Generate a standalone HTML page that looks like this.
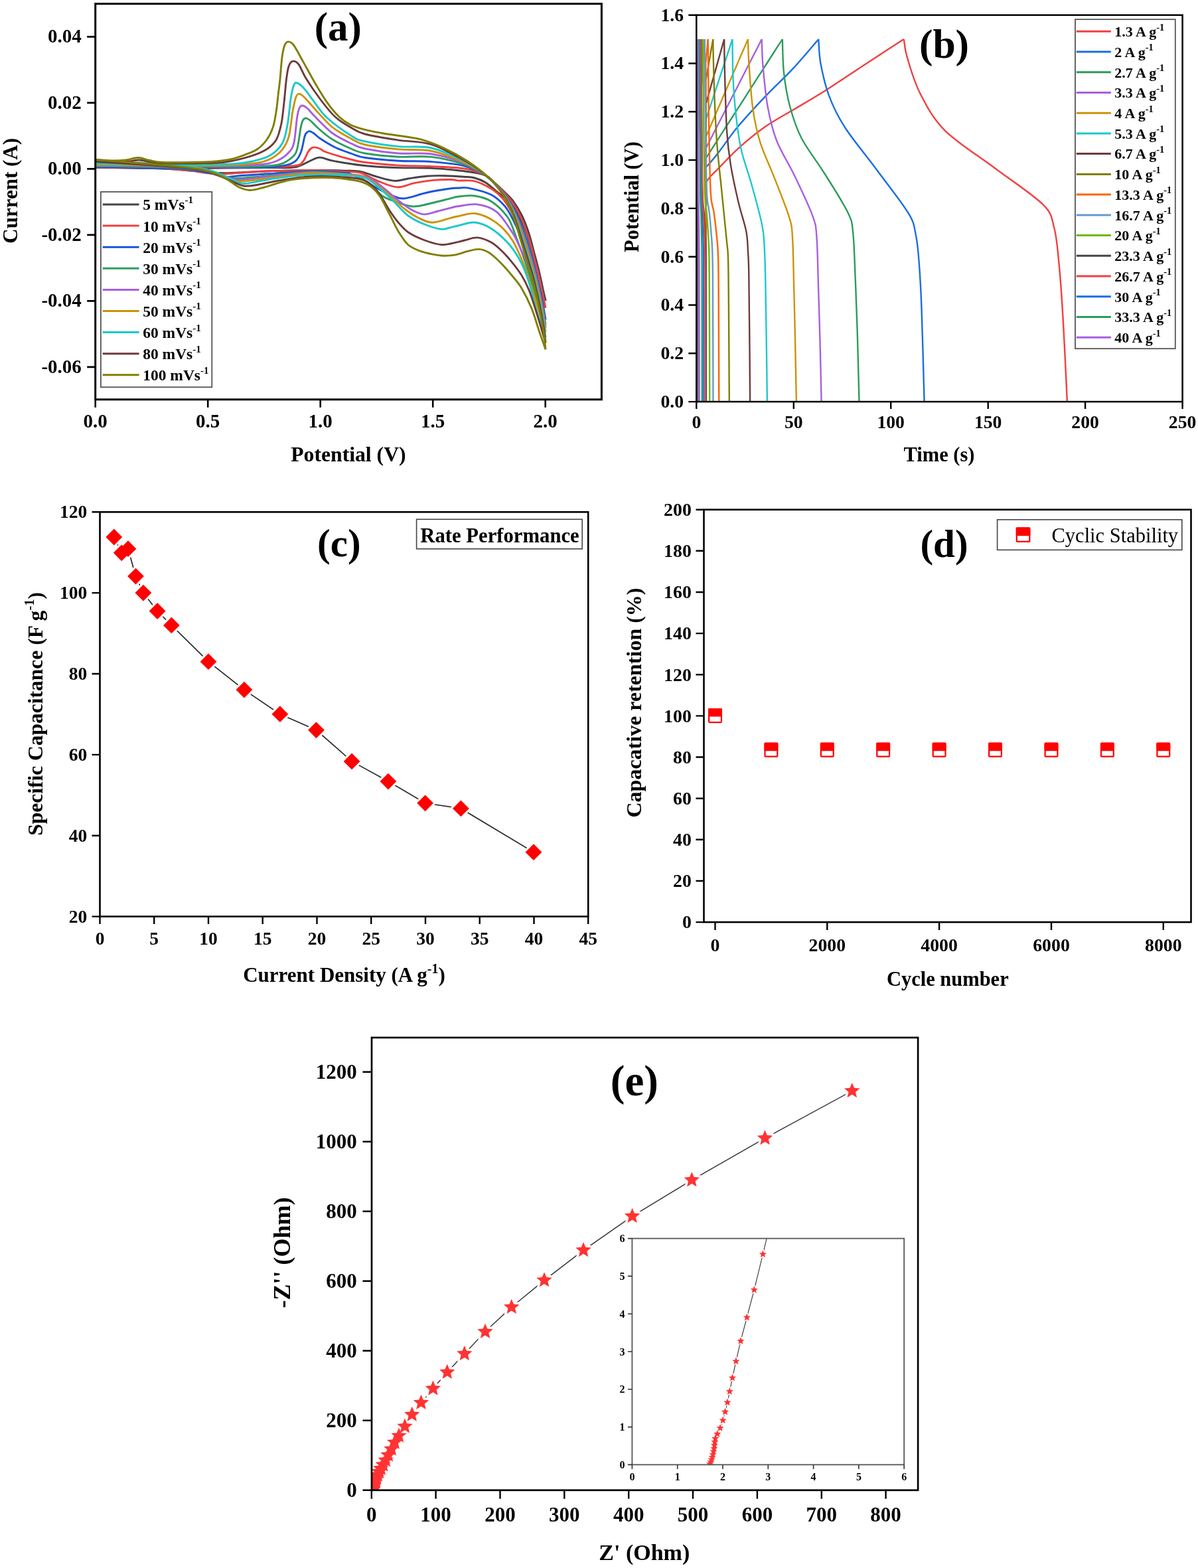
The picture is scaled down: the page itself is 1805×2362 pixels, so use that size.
<!DOCTYPE html><html><head><meta charset="utf-8"><title>Electrochemical performance</title><style>html,body{margin:0;padding:0;background:#fff;overflow:hidden;width:1805px;height:2362px;}svg{display:block;}</style></head><body>
<svg width="1805" height="2362" viewBox="0 0 1805 2362">
<rect width="1805" height="2362" fill="#fff"/>
<defs><clipPath id="clipA"><rect x="143.7" y="5.7" width="762.7" height="596.1"/></clipPath></defs>
<g clip-path="url(#clipA)" fill="none" stroke-width="2.9" stroke-linejoin="round">
<path d="M143.7,252C153.1,252.2 180.6,252.8 200,253C219.4,253.2 243.3,253.4 260,253.5C276.7,253.6 286.7,253.7 300,253.6C313.3,253.5 323.3,253.2 340,253C356.7,252.8 383.3,252.6 400,252.5C416.7,252.4 430.9,253.1 440,252.4C449.1,251.8 449.6,250.3 454.3,248.6C459,246.9 463.4,243.9 468,242C472.6,240.1 476.6,237.1 481.9,237.1C487.2,237.1 492,240.2 500,241.9C508,243.6 520,245.6 530,247C540,248.4 548.3,249.6 560,250.5C571.7,251.4 585,252.1 600,252.6C615,253.1 635,252.7 650,253.4C665,254.1 679.2,255.6 690,256.7C700.8,257.8 708,258.7 715,260C722,261.3 726.7,262 731.7,264.5C736.7,267 740.3,270.9 745,275C749.7,279.1 755.3,284.3 760,289C764.7,293.7 769,297.2 773.3,303C777.6,308.8 782,315.8 786,324C790,332.2 793.7,341.8 797,352C800.3,362.2 803.3,375 806,385C808.7,395 811,403.7 813,412C815,420.3 816.5,428.2 818,435C819.5,441.8 821.3,449.8 822,452.8" stroke="#454545"/>
<path d="M822,452.8C821.2,449.8 818.7,441.3 817,435C815.3,428.7 814.3,423.8 812,415C809.7,406.2 806.2,392.8 803,382C799.8,371.2 796.8,360 793,350C789.2,340 784.7,330 780,322C775.3,314 770.3,307.6 765,302C759.7,296.4 753.8,292.8 748.3,288.3C742.8,283.8 737.2,278.4 731.7,275C726.2,271.6 720.6,269.5 715,268C709.4,266.5 705.7,266.8 698,266.2C690.3,265.6 678,264.9 669,264.7C660,264.5 652.8,264.5 643.8,265.2C634.8,265.9 623.5,267.8 615.2,269C607,270.2 602.2,272.9 594.3,272.4C586.4,271.9 576,268.5 567.6,266.2C559.2,263.9 551.7,260.1 543.8,258.6C535.9,257.1 532.3,257.5 520,257.1C507.7,256.7 490,256.2 470,256.4C450,256.5 420.9,257.3 400,258C379.1,258.7 358.4,260.4 344.3,260.7C330.2,261 327.6,260.8 315.7,260C303.8,259.2 287.2,256.8 272.9,255.7C258.6,254.6 251.5,254.1 230,253.5C208.5,252.9 158.1,252.2 143.7,252" stroke="#454545"/>
<path d="M143.7,251.5C153.1,251.6 173.9,251.8 200,252C226.1,252.2 266.7,252.5 300,252.5C333.3,252.5 375.9,252.5 400,252C424.1,251.5 435.4,250.9 444.8,249.5C454.2,248.1 453,247.1 456.2,243.8C459.4,240.5 461.8,232.8 463.8,229.5C465.8,226.2 466.4,225.3 468,224C469.6,222.7 471,221.9 473.3,221.9C475.6,221.9 478.8,222.7 482,224C485.2,225.3 484.4,226.8 492.4,229.5C500.4,232.2 520.4,238 530,240.5C539.6,243 538.3,243.1 550,244.5C561.7,245.9 583.3,248.1 600,249.1C616.7,250.1 633.3,249.9 650,250.7C666.7,251.5 686.4,251.8 700,254C713.6,256.2 724.1,260.4 731.7,264C739.3,267.6 740.7,271.2 745.4,275.7C750.2,280.2 755.8,285.7 760.4,290.9C765.1,296.1 769.3,300.6 773.5,307C777.8,313.4 781.9,320.8 785.7,329.3C789.5,337.8 793.2,347.6 796.6,358C799.9,368.4 803.1,381.2 805.8,391.6C808.6,401.9 811,411.4 813,420.3C815.1,429.1 816.7,437.3 818.1,444.6C819.6,451.8 821.4,460.4 822,463.6" stroke="#F14040"/>
<path d="M822,463.6C820.7,459.3 816.7,446.9 814,438C811.3,429.1 809,420 806,410C803,400 799.7,388.8 796,378C792.3,367.2 788.3,355 784,345C779.7,335 774.5,325.8 770,318C765.5,310.2 761.7,303.9 756.7,298.3C751.7,292.7 747,288.4 740,284.2C733,280 723.3,274.9 715,272.9C706.7,270.9 695.8,272.5 690,272.1C684.2,271.7 686.1,270.6 680,270.5C673.9,270.4 662.5,270.5 653.3,271.4C644.1,272.3 634,273.9 624.8,275.7C615.6,277.4 607.6,282.5 598.1,281.9C588.6,281.3 576.7,275.5 567.6,271.9C558.5,268.3 551.7,262.7 543.8,260.5C535.9,258.3 532.3,259.3 520,258.6C507.7,257.9 490,256.5 470,256.4C450,256.3 422.9,257.1 400,258C377.1,258.9 349.6,261.9 332.9,262.1C316.2,262.3 307.6,259.8 300,259C292.4,258.2 298.7,258.1 287,257.1C275.3,256.1 253.9,253.9 230,253C206.1,252.1 158.1,251.8 143.7,251.5" stroke="#F14040"/>
<path d="M143.7,251C153.1,251.1 173.9,251.3 200,251.5C226.1,251.7 266.7,251.9 300,252C333.3,252.1 378.3,252.5 400,252C421.7,251.5 422.5,250.5 430,249C437.5,247.5 440.9,246.2 444.8,242.9C448.7,239.7 450.9,235.7 453.3,229.5C455.7,223.3 457.6,210.6 459,205.7C460.4,200.8 460.8,201.3 462,200C463.2,198.7 464.4,197.4 466.2,197.6C468,197.8 470.2,199.1 473,201C475.8,202.9 477.6,205.5 482.9,209C488.2,212.5 497.1,218.2 505,222C512.9,225.8 522.5,228.9 530,231.5C537.5,234.1 538.3,235.7 550,237.5C561.7,239.3 583.3,241.2 600,242.2C616.7,243.2 633.3,242.3 650,243.6C666.7,244.9 686.4,246.6 700,250C713.6,253.4 724,259.5 731.7,264C739.4,268.5 741.3,271.9 746.2,276.9C751.1,282 756.5,288 761.2,294.1C765.8,300.2 770,306.2 774,313.5C778,320.8 781.6,328.9 785.2,338C788.9,347.1 792.4,357.2 795.8,368C799.2,378.7 802.7,391.4 805.5,402.4C808.4,413.3 811,424.3 813.1,433.9C815.3,443.6 816.9,452.4 818.4,460.3C819.9,468.2 821.4,477.9 822,481.4" stroke="#1A55D8"/>
<path d="M822,481.4C820.7,477 816.7,464.4 814,455C811.3,445.6 809,435.8 806,425C803,414.2 799.5,401.2 796,390C792.5,378.8 788.8,367.7 785,358C781.2,348.3 777.3,339.6 773.3,331.7C769.3,323.8 766.3,317.2 760.8,310.8C755.2,304.4 749,297.9 740,293.3C731,288.7 715,285 706.7,283.3C698.4,281.6 694.5,283.2 690,283.3C685.5,283.4 687.7,282.7 680,283.8C672.3,284.9 655.7,287.5 643.8,290C631.9,292.5 617.6,298.3 608.6,299C599.6,299.7 596.8,296.6 590,294C583.2,291.4 574.3,287 567.6,283.3C560.9,279.6 556.3,275.4 550,272C543.7,268.6 535,264.9 530,263C525,261.1 530,261.4 520,260.5C510,259.6 490,257.6 470,257.9C450,258.1 418.6,260.8 400,262C381.4,263.2 368.8,264.3 358.6,265C348.4,265.7 345.8,267.1 338.6,266.4C331.5,265.7 325.5,262.6 315.7,260.7C305.9,258.8 294.3,256.3 280,255C265.7,253.7 252.7,253.7 230,253C207.3,252.3 158.1,251.3 143.7,251" stroke="#1A55D8"/>
<path d="M143.7,250C153.1,250.1 173.9,250.3 200,250.5C226.1,250.7 270,250.9 300,251C330,251.1 360,251.5 380,251C400,250.5 410,250.3 420,248C430,245.7 435.4,241 440,237.1C444.6,233.2 445.4,232.4 447.6,224.8C449.8,217.2 451.8,198.7 453.3,191.4C454.8,184.1 455.1,183.2 456.5,181C457.9,178.8 459.5,177.9 461.4,178.1C463.3,178.3 465.2,179.7 468,182C470.8,184.3 472.8,187.4 478.1,192C483.4,196.6 491.4,204.1 500,209.5C508.6,214.9 521.7,220.9 530,224.5C538.3,228.1 538.3,229.1 550,231C561.7,232.9 583.3,235.3 600,236.2C616.7,237.1 633.3,234.4 650,236.4C666.7,238.4 686.4,243.4 700,248C713.6,252.6 724,259.1 731.7,264C739.4,268.9 741.5,272.2 746.5,277.5C751.4,282.7 756.9,288.9 761.5,295.4C766.1,301.9 770.2,308.6 774.1,316.3C778.1,324 781.5,332.4 785,341.7C788.6,351 792.1,361.3 795.5,372.2C798.9,383.1 802.5,395.7 805.4,407C808.3,418.2 811,429.7 813.1,439.7C815.3,449.7 817,458.8 818.5,467C820,475.2 821.4,485.3 822,489" stroke="#2E9E5E"/>
<path d="M822,489C820.8,485.8 817.3,476.8 815,470C812.7,463.2 810.8,457.2 808,448C805.2,438.8 801.3,425.5 798,415C794.7,404.5 791.4,394.7 788,385C784.6,375.3 781.3,366.3 777.5,356.7C773.7,347.1 771.2,336.4 765,327.5C758.8,318.6 748.3,308.7 740,303.3C731.7,297.9 723.3,296.2 715,295C706.7,293.8 695.8,295.6 690,296.2C684.2,296.9 686.7,297 680,298.6C673.3,300.2 659.5,303.9 650,306C640.5,308.1 631.2,311.2 622.9,311C614.6,310.8 607.6,307.6 600,305C592.4,302.4 583.8,299.9 577.1,295.7C570.4,291.5 566.2,284.9 560,280C553.8,275.1 546.7,269 540,266C533.3,263 531.7,263.2 520,262C508.3,260.8 486.7,258.8 470,259C453.3,259.2 435,261.7 420,263C405,264.3 391.4,266.1 380,267C368.6,267.9 359.7,269.3 351.4,268.6C343.1,267.9 338.6,265.1 330,263C321.4,260.9 313.3,257.8 300,256C286.7,254.2 276.1,253 250,252C223.9,251 161.4,250.3 143.7,250" stroke="#2E9E5E"/>
<path d="M143.7,249C153.1,249.1 173.9,249.3 200,249.5C226.1,249.7 273.3,250 300,250C326.7,250 343.3,250 360,249.5C376.7,249 390,248.4 400,247C410,245.6 414.1,243.9 420,241C425.9,238.1 431.4,233.8 435.2,229.5C439,225.2 440.8,223.9 442.9,215.2C445,206.5 446.2,185.8 447.6,177.1C449,168.4 449.6,166 451,163C452.4,160 453.5,158.8 455.7,159C457.9,159.2 461.1,161.4 464,164C466.9,166.6 467.3,168.3 473.3,174.3C479.3,180.3 490.6,193 500,200C509.4,207 521.7,212.5 530,216.5C538.3,220.5 538.3,221.6 550,224C561.7,226.4 583.3,229.7 600,231C616.7,232.3 633.3,229.5 650,232C666.7,234.5 686.4,240.7 700,246C713.6,251.3 723.9,258.7 731.7,264C739.5,269.3 741.7,272.4 746.7,277.8C751.7,283.1 757.1,289.5 761.7,296.2C766.3,302.9 770.4,310 774.2,318C778.1,325.9 781.4,334.5 784.9,343.9C788.4,353.4 791.9,363.7 795.3,374.7C798.7,385.7 802.4,398.3 805.3,409.7C808.3,421.1 811,433 813.2,443.2C815.4,453.4 817.1,462.6 818.6,471C820,479.4 821.4,489.7 822,493.5" stroke="#A65FE0"/>
<path d="M822,493.5C820.7,488.2 816.8,472.9 814,462C811.2,451.1 808.5,439.5 805,428C801.5,416.5 796.2,401.3 793,393C789.8,384.7 789.1,384.8 785.8,378C782.5,371.2 779.5,362.3 773.3,352.5C767,342.7 757.3,326.6 748.3,319.2C739.3,311.8 728.9,309.3 719.2,307.9C709.5,306.5 696.5,310 690,310.8C683.5,311.6 685,311.7 680,312.9C675,314.1 666.8,316.3 660,318C653.2,319.7 645.7,323.2 639,322.9C632.3,322.6 626.5,319.5 620,316C613.5,312.5 606.7,307.2 600,302C593.3,296.8 586.7,290.3 580,285C573.3,279.7 566.7,273.5 560,270C553.3,266.5 546.7,265.2 540,264C533.3,262.8 531.7,263.2 520,262.5C508.3,261.8 486.7,259.8 470,260C453.3,260.2 435,262.5 420,264C405,265.5 390.7,267.9 380,269C369.3,270.1 363.2,271.5 355.7,270.7C348.2,269.9 342.6,266.3 335,264C327.4,261.7 319.2,259 310,257C300.8,255 293.3,253.2 280,252C266.7,250.8 252.7,250.5 230,250C207.3,249.5 158.1,249.2 143.7,249" stroke="#A65FE0"/>
<path d="M143.7,248C153.1,248.1 182.3,248.3 200,248.5C217.7,248.7 233.3,248.8 250,249C266.7,249.2 283.3,249.6 300,249.5C316.7,249.4 335,249.2 350,248.5C365,247.8 380,246.8 390,245C400,243.2 404.1,241.4 410,238C415.9,234.6 421.5,230.2 425.7,224.8C429.9,219.4 432.6,215.2 435.2,205.7C437.8,196.2 439.2,177.5 441,167.6C442.8,157.7 444.3,150.4 446,146C447.7,141.6 449.1,141.1 451.4,141.4C453.7,141.7 456.4,144.4 460,148C463.6,151.6 466.6,155.7 473.3,162.9C480,170.1 490.6,183.2 500,191C509.4,198.8 521.7,205 530,209.5C538.3,214 538.3,215.4 550,218C561.7,220.6 583.3,223.3 600,224.9C616.7,226.5 633.3,224.2 650,227.5C666.7,230.8 686.4,238.9 700,245C713.6,251.1 723.9,258.5 731.7,264C739.5,269.5 741.9,272.7 746.9,278.2C752,283.8 757.3,290.3 761.9,297.3C766.5,304.4 770.6,312 774.4,320.3C778.2,328.6 781.3,337.5 784.7,347.1C788.2,356.8 791.7,367.2 795.1,378.3C798.5,389.4 802.2,402 805.2,413.6C808.2,425.3 811,437.6 813.2,448.2C815.4,458.7 817.2,468.1 818.6,476.7C820.1,485.4 821.4,496.1 822,500" stroke="#CC9308"/>
<path d="M822,500C820.5,495.3 816.2,482 813,472C809.8,462 806.7,451.5 803,440C799.3,428.5 796.2,416 791,403C785.8,390 779.1,373.2 772,362C764.9,350.8 757.4,342.5 748.3,335.8C739.2,329.1 727.2,323.4 717.5,321.7C707.8,320 696.2,324.7 690,325.8C683.8,326.9 686.4,326.5 680,328.1C673.6,329.7 659.7,335.2 651.4,335.2C643.1,335.2 636.9,331.4 630,328C623.1,324.6 616.7,320.2 610,315C603.3,309.8 596.7,302.8 590,297C583.3,291.2 576.7,285 570,280C563.3,275 558.3,269.8 550,267C541.7,264.2 533.3,264.1 520,263C506.7,261.9 486.7,260.2 470,260.7C453.3,261.2 434.2,264.3 420,266C405.8,267.7 395.2,269.9 385,271C374.8,272.1 366.1,273.7 358.6,272.9C351.1,272.1 346.4,268.5 340,266C333.6,263.5 328.3,260.3 320,258C311.7,255.7 305,253.5 290,252C275,250.5 254.4,249.7 230,249C205.6,248.3 158.1,248.2 143.7,248" stroke="#CC9308"/>
<path d="M143.7,246.5C149.8,246.6 168.9,247.2 180,247C191.1,246.8 200,244.9 210,245C220,245.1 225,247 240,247.5C255,248 281.7,248.1 300,248C318.3,247.9 336.7,247.8 350,247C363.3,246.2 370.6,245.1 380,243C389.4,240.9 399.1,238.9 406.7,234.3C414.3,229.7 421.3,223.1 425.7,215.2C430.1,207.3 431.2,197.8 433.3,186.7C435.4,175.6 436.5,158.4 438.1,148.6C439.7,138.8 441.2,131.5 442.9,127.6C444.6,123.7 445.4,124.1 448.1,125.2C450.8,126.3 454.8,129.6 459,134.3C463.2,139 467.7,146.2 473.3,153.3C478.9,160.4 482.9,168.5 492.4,177.1C501.8,185.7 520.4,199 530,205C539.6,211 538.3,210.4 550,213C561.7,215.6 583.3,218.9 600,220.6C616.7,222.3 633.3,219.3 650,223C666.7,226.7 686.4,236.2 700,243C713.6,249.8 723.8,258 731.7,264C739.6,270 742.2,273 747.3,278.8C752.4,284.6 757.7,291.4 762.3,298.9C766.8,306.3 770.9,314.7 774.6,323.5C778.3,332.2 781.1,341.3 784.5,351.3C787.8,361.2 791.3,371.8 794.7,383.1C798.2,394.3 802,406.9 805.1,418.8C808.2,430.7 810.9,443.8 813.2,454.7C815.5,465.6 817.3,475.3 818.8,484.3C820.2,493.2 821.5,504.5 822,508.5" stroke="#1CC8CC"/>
<path d="M822,508.5C819.8,501.8 812.9,482.1 808.7,468.3C804.6,454.5 801,437.8 797.1,425.7C793.2,413.6 790.5,405.6 785.5,396C780.5,386.4 774.6,376.6 767,368C759.4,359.4 748.7,349.7 740,344.2C731.3,338.7 723.3,335.7 715,335C706.7,334.3 695.8,338.8 690,340C684.2,341.2 684.2,341.5 680,342.4C675.8,343.3 671.5,345.9 664.8,345.2C658.1,344.5 648.3,341.4 640,338C631.7,334.6 623.3,331.3 615,325C606.7,318.7 597.5,307.2 590,300C582.5,292.8 576.7,287.3 570,282C563.3,276.7 558.3,271 550,268C541.7,265 533.3,264.9 520,264C506.7,263.1 486.7,262.2 470,262.9C453.3,263.6 433.3,266.3 420,268C406.7,269.7 399.1,271.6 390,273C380.9,274.4 373.2,277.2 365.7,276.4C358.2,275.6 352.6,271.1 345,268C337.4,264.9 329.2,260.7 320,258C310.8,255.3 305,253.7 290,252C275,250.3 254.4,248.9 230,248C205.6,247.1 158.1,246.8 143.7,246.5" stroke="#1CC8CC"/>
<path d="M143.7,243.5C148.9,243.7 166.4,244.6 175,244.5C183.6,244.4 189.2,243.6 195,243C200.8,242.4 204.5,240.8 210,241C215.5,241.2 221.3,243.2 228,244C234.7,244.8 238,245.7 250,246C262,246.3 285,246.3 300,246C315,245.7 327,245.8 340,244C353,242.2 367.8,238.4 378.1,235.2C388.4,232 395.5,228.9 401.9,224.8C408.2,220.7 412.5,216.8 416.2,210.5C419.9,204.2 421.9,195.4 423.8,186.7C425.7,178 426.3,169.2 427.6,158.1C428.9,147 430.2,129.7 431.4,120C432.6,110.3 433.4,104.6 435,100C436.6,95.4 438.2,92.8 440.7,92.3C443.2,91.8 446.6,92.7 450,97C453.4,101.3 455.5,109.2 461,118C466.5,126.8 475.6,140.3 482.9,150C490.2,159.7 497.4,169 505,176C512.6,183 521.1,187.7 528.6,192C536.1,196.3 538.1,198.8 550,202C561.9,205.2 583.3,208.5 600,211.1C616.7,213.7 632.7,212.2 650,217.7C667.3,223.2 690.1,236.3 703.7,244C717.3,251.7 724.4,258.1 731.7,264C739,269.9 742.5,273.3 747.6,279.3C752.8,285.4 758.1,292.4 762.6,300.3C767.1,308.1 771.2,317.2 774.8,326.4C778.4,335.6 781,345 784.3,355.2C787.5,365.4 791,376.1 794.4,387.5C797.8,398.9 801.8,411.4 805,423.7C808.1,435.9 810.9,449.5 813.3,460.8C815.6,472.1 817.4,482 818.9,491.3C820.3,500.6 821.5,512.3 822,516.5" stroke="#6E3B3B"/>
<path d="M822,516.5C819.8,509.1 812.9,485.3 808.7,472.1C804.6,458.9 801,447 797.1,437.3C793.2,427.6 790,421.4 785.5,414.1C781,406.8 775.1,399.5 770,393.3C764.9,387.1 760,381.7 755,377C750,372.3 746,368.2 740,365C734,361.8 725.9,358.4 719.2,357.9C712.5,357.4 706.5,360.5 700,362C693.5,363.5 685.9,365.6 680,366.7C674.1,367.8 671.5,369.4 664.8,368.6C658.1,367.8 648.3,365.1 640,362C631.7,358.9 621.9,354.5 615.2,350C608.5,345.5 604.8,340.6 600,335C595.2,329.4 591.7,324.2 586.7,316.7C581.7,309.2 576.1,297.4 570,290C563.9,282.6 558.3,275.8 550,272C541.7,268.2 533.3,268.1 520,267C506.7,265.9 486.7,264.9 470,265.7C453.3,266.5 433.3,269.9 420,272C406.7,274.1 398.8,276.7 390,278C381.2,279.3 374.6,281.2 367.1,280C359.6,278.8 352.9,274.2 345,271C337.1,267.8 329.2,263.8 320,261C310.8,258.2 305,256 290,254C275,252 254.4,250.8 230,249C205.6,247.2 158.1,244.4 143.7,243.5" stroke="#6E3B3B"/>
<path d="M143.7,240.5C148.1,240.8 162.3,241.9 170,242C177.7,242.1 183.7,241.8 190,241C196.3,240.2 202.2,237.4 208,237.5C213.8,237.6 218.8,240.3 225,241.5C231.2,242.7 234.2,244 245,244.5C255.8,245 277.5,244.7 290,244.5C302.5,244.3 310.8,244.2 320,243.5C329.2,242.8 336.9,242.2 345,240.5C353.1,238.8 361.5,235.9 368.6,233.3C375.7,230.7 382.1,228.6 387.6,224.8C393.2,221 397.9,216.1 401.9,210.5C405.9,204.9 409,198.6 411.4,191.4C413.8,184.2 414.9,175.5 416.2,167.6C417.5,159.7 418.1,151.7 419,143.8C419.9,135.9 420.9,129.6 421.9,120C422.9,110.4 423.8,94.7 425,86C426.2,77.3 427.4,71.8 429,68C430.6,64.2 432.5,62.8 434.8,62.9C437.1,63 439.2,63.5 442.9,68.6C446.6,73.7 451.8,84.1 457.1,93.6C462.5,103.1 469,115.6 475,125.7C481,135.8 486.9,146 492.9,154.3C498.8,162.6 504.8,170 510.7,175.7C516.6,181.3 522.1,184.9 528.6,188.2C535.1,191.5 542.3,193.3 550,195.4C557.7,197.5 566.7,199 575,200.5C583.3,202 590.1,202.6 600,204.2C609.9,205.8 623.1,207 634.6,210.2C646.1,213.4 657.6,217.9 669.1,223.2C680.6,228.5 693.3,235.5 703.7,242.2C714.1,248.9 724.3,257 731.7,263.3C739.1,269.6 742.8,273.6 748,280C753.2,286.4 758.5,293.7 763,302C767.5,310.3 771.5,320.3 775,330C778.5,339.7 780.8,349.5 784,360C787.2,370.5 790.5,381.4 794,393C797.5,404.6 801.6,417.1 804.8,429.6C808,442.2 810.9,456.6 813.3,468.3C815.7,480 817.5,490.3 819,500C820.5,509.7 821.5,521.9 822,526.3" stroke="#7F7F00"/>
<path d="M822,526.3C820.4,521.8 816,509.5 812.5,499.2C809,488.9 805.4,475.3 800.9,464.4C796.4,453.4 790.6,442 785.5,433.5C780.4,425 774.5,419 770,413.4C765.5,407.8 761.9,403.9 758.3,400C754.7,396.1 752,393.3 748.3,390C744.5,386.7 740.2,382.4 735.8,380C731.4,377.6 727.1,375.6 721.7,375.4C716.4,375.2 709.6,377.3 703.7,378.7C697.8,380.1 692.4,382.8 686.4,383.9C680.4,385 673.1,385.3 667.6,385.2C662.1,385.1 658.8,384.4 653.3,383.3C647.8,382.2 640.6,381 634.3,378.6C627.9,376.2 620.8,373.8 615.2,369C609.7,364.2 605.8,357.8 601,350C596.2,342.2 591.5,331.4 586.7,322.4C581.9,313.3 576.9,302.4 572.4,295.7C567.9,289 564.3,285.5 560,282C555.7,278.5 553.1,276.6 546.4,274.5C539.7,272.4 529.4,270.7 520,269.5C510.6,268.3 500,267.7 490,267.5C480,267.3 469.2,267.8 460,268.5C450.8,269.2 442.5,270.1 435,271.5C427.5,272.9 421.7,275.1 415,277C408.3,278.9 401.5,281.4 395,283C388.5,284.6 381.8,286.7 376,286.5C370.2,286.3 364.7,284.1 360,282C355.3,279.9 353,277.1 348,274C343,270.9 337.8,266.8 330,263.6C322.2,260.4 313.1,257.3 301.4,255C289.7,252.7 276.9,251.7 260,250C243.1,248.3 219.4,246.6 200,245C180.6,243.4 153.1,241.2 143.7,240.5" stroke="#7F7F00"/>
</g>
<rect x="143.7" y="5.7" width="762.7" height="596.1" fill="none" stroke="#000" stroke-width="3.0"/>
<path d="M143.7,601.8V613.8M313.2,601.8V613.8M482.7,601.8V613.8M652.2,601.8V613.8M821.7,601.8V613.8" stroke="#000" stroke-width="2.6" fill="none"/>
<path d="M143.7,55.4H131.2M143.7,154.9H131.2M143.7,254.4H131.2M143.7,353.9H131.2M143.7,453.4H131.2M143.7,552.9H131.2" stroke="#000" stroke-width="2.6" fill="none"/>
<text x="143.7" y="643.8" font-size="29" text-anchor="middle" style="font-family:'Liberation Serif','Times New Roman',serif;font-weight:bold">0.0</text>
<text x="313.2" y="643.8" font-size="29" text-anchor="middle" style="font-family:'Liberation Serif','Times New Roman',serif;font-weight:bold">0.5</text>
<text x="482.7" y="643.8" font-size="29" text-anchor="middle" style="font-family:'Liberation Serif','Times New Roman',serif;font-weight:bold">1.0</text>
<text x="652.2" y="643.8" font-size="29" text-anchor="middle" style="font-family:'Liberation Serif','Times New Roman',serif;font-weight:bold">1.5</text>
<text x="821.7" y="643.8" font-size="29" text-anchor="middle" style="font-family:'Liberation Serif','Times New Roman',serif;font-weight:bold">2.0</text>
<text x="122.8" y="64.2" font-size="29" text-anchor="end" style="font-family:'Liberation Serif','Times New Roman',serif;font-weight:bold">0.04</text>
<text x="122.8" y="163.7" font-size="29" text-anchor="end" style="font-family:'Liberation Serif','Times New Roman',serif;font-weight:bold">0.02</text>
<text x="122.8" y="263.2" font-size="29" text-anchor="end" style="font-family:'Liberation Serif','Times New Roman',serif;font-weight:bold">0.00</text>
<text x="122.8" y="362.7" font-size="29" text-anchor="end" style="font-family:'Liberation Serif','Times New Roman',serif;font-weight:bold">-0.02</text>
<text x="122.8" y="462.2" font-size="29" text-anchor="end" style="font-family:'Liberation Serif','Times New Roman',serif;font-weight:bold">-0.04</text>
<text x="122.8" y="561.7" font-size="29" text-anchor="end" style="font-family:'Liberation Serif','Times New Roman',serif;font-weight:bold">-0.06</text>
<text x="524.9" y="694.5" font-size="31.7" text-anchor="middle" style="font-family:'Liberation Serif','Times New Roman',serif;font-weight:bold">Potential (V)</text>
<text x="26.5" y="287.3" font-size="31" text-anchor="middle" style="font-family:'Liberation Serif','Times New Roman',serif;font-weight:bold" transform="rotate(-90 26.5 287.3)">Current (A)</text>
<text x="509.3" y="60.6" font-size="61" text-anchor="middle" style="font-family:'Liberation Serif','Times New Roman',serif;font-weight:bold">(a)</text>
<rect x="151.9" y="289" width="167.4" height="294.2" fill="#fff" stroke="#555" stroke-width="1.8"/>
<path d="M154.7,308H209.6" stroke="#454545" stroke-width="3"/>
<text x="215.2" y="316.4" font-size="23.5" style="font-family:'Liberation Serif','Times New Roman',serif;font-weight:bold">5 mVs<tspan font-size="15" dy="-10.5">-1</tspan></text>
<path d="M154.7,340.1H209.6" stroke="#F14040" stroke-width="3"/>
<text x="215.2" y="348.5" font-size="23.5" style="font-family:'Liberation Serif','Times New Roman',serif;font-weight:bold">10 mVs<tspan font-size="15" dy="-10.5">-1</tspan></text>
<path d="M154.7,372.2H209.6" stroke="#1A55D8" stroke-width="3"/>
<text x="215.2" y="380.6" font-size="23.5" style="font-family:'Liberation Serif','Times New Roman',serif;font-weight:bold">20 mVs<tspan font-size="15" dy="-10.5">-1</tspan></text>
<path d="M154.7,404.3H209.6" stroke="#2E9E5E" stroke-width="3"/>
<text x="215.2" y="412.7" font-size="23.5" style="font-family:'Liberation Serif','Times New Roman',serif;font-weight:bold">30 mVs<tspan font-size="15" dy="-10.5">-1</tspan></text>
<path d="M154.7,436.4H209.6" stroke="#A65FE0" stroke-width="3"/>
<text x="215.2" y="444.8" font-size="23.5" style="font-family:'Liberation Serif','Times New Roman',serif;font-weight:bold">40 mVs<tspan font-size="15" dy="-10.5">-1</tspan></text>
<path d="M154.7,468.5H209.6" stroke="#CC9308" stroke-width="3"/>
<text x="215.2" y="476.9" font-size="23.5" style="font-family:'Liberation Serif','Times New Roman',serif;font-weight:bold">50 mVs<tspan font-size="15" dy="-10.5">-1</tspan></text>
<path d="M154.7,500.6H209.6" stroke="#1CC8CC" stroke-width="3"/>
<text x="215.2" y="509" font-size="23.5" style="font-family:'Liberation Serif','Times New Roman',serif;font-weight:bold">60 mVs<tspan font-size="15" dy="-10.5">-1</tspan></text>
<path d="M154.7,532.7H209.6" stroke="#6E3B3B" stroke-width="3"/>
<text x="215.2" y="541.1" font-size="23.5" style="font-family:'Liberation Serif','Times New Roman',serif;font-weight:bold">80 mVs<tspan font-size="15" dy="-10.5">-1</tspan></text>
<path d="M154.7,564.8H209.6" stroke="#7F7F00" stroke-width="3"/>
<text x="215.2" y="573.2" font-size="23.5" style="font-family:'Liberation Serif','Times New Roman',serif;font-weight:bold">100 mVs<tspan font-size="15" dy="-10.5">-1</tspan></text>
<defs><clipPath id="clipB"><rect x="1049.3" y="22.7" width="732.3" height="582.4"/></clipPath></defs>
<g clip-path="url(#clipB)" fill="none" stroke-width="2.4" stroke-linejoin="round">
<path d="M1063.4,605.1 L1063.4,275.7" stroke="#F14040"/>
<path d="M1063.4,275.7C1064.4,274.2 1066.3,270.5 1069.3,267C1072.3,263.6 1074.1,262.2 1081.3,254.9C1088.5,247.6 1100.5,234.1 1112.6,223.3C1124.7,212.5 1140.2,199.8 1154.1,190.1C1168,180.4 1182,173.3 1195.9,165C1209.8,156.7 1223.5,149 1237.4,140.3C1251.3,131.7 1265.3,122.1 1279.2,113C1293,103.9 1306.9,94.7 1320.7,85.7C1334.4,76.8 1355,63.5 1361.8,59.1" stroke="#F14040"/>
<path d="M1361.8,59.1C1362.7,63.7 1362.7,72.7 1366.8,86.4C1370.9,100 1377,122.7 1386.5,141C1395.9,159.3 1404.9,177.8 1423.4,196.3C1441.8,214.8 1472.6,233.5 1497.2,252C1521.8,270.6 1555.8,292.5 1571,307.7C1586.2,322.9 1584.1,328 1588.2,343C1592.3,358 1593.3,374.6 1595.6,397.6C1597.9,420.7 1599.7,446.8 1601.7,481.3C1603.8,515.9 1606.9,584.5 1607.9,605.1" stroke="#F14040"/>
<path d="M1063.4,605.1 L1063.4,252.4" stroke="#1A6FDF"/>
<path d="M1063.4,252.4C1066.3,248.9 1072.9,242.1 1081,231.7C1089.2,221.3 1100.1,204.7 1112.3,190.1C1124.5,175.6 1140.2,158.8 1154.1,144.1C1168,129.5 1182.5,116.6 1195.7,102.4C1208.9,88.2 1227,66.3 1233.3,59.1" stroke="#1A6FDF"/>
<path d="M1233.3,59.1C1233.8,65.2 1233.8,81.2 1236.4,95.5C1239.1,109.8 1243.1,128.6 1249.2,144.6C1255.3,160.7 1261.1,173.5 1273.1,192C1285,210.5 1305,234.1 1320.9,255.7C1336.8,277.2 1358.9,304.8 1368.7,321.2C1378.5,337.6 1377.2,341.8 1379.9,353.9C1382.5,366.1 1383.2,375.2 1384.6,394C1386.1,412.8 1387.3,431.6 1388.6,466.8C1389.9,502 1391.9,582 1392.6,605.1" stroke="#1A6FDF"/>
<path d="M1063.4,605.1 L1063.4,238.6" stroke="#2A9D5A"/>
<path d="M1063.4,238.6C1065.3,235.6 1071.1,226.6 1074.9,220.6C1078.7,214.6 1082.6,208.6 1086.4,202.7C1090.3,196.7 1094.1,190.7 1098,184.7C1101.8,178.7 1105.7,172.8 1109.5,166.8C1113.4,160.8 1117.2,154.8 1121.1,148.8C1124.9,142.8 1128.8,136.9 1132.6,130.9C1136.5,124.9 1140.3,118.9 1144.1,112.9C1148,107 1151.8,101 1155.7,95C1159.5,89 1163.4,83 1167.2,77C1171.1,71.1 1176.8,62.1 1178.8,59.1" stroke="#2A9D5A"/>
<path d="M1178.8,59.1C1179.2,67.6 1179.2,93.1 1181.1,110.1C1183,127 1185.9,144.6 1190.3,161C1194.8,177.4 1199,191.6 1207.7,208.3C1216.4,225.1 1230.8,243 1242.4,261.5C1254,280 1270,304.6 1277.1,319.4C1284.3,334.2 1283.3,333.6 1285.2,350.3C1287.1,367 1287.6,395.2 1288.7,419.5C1289.7,443.7 1290.6,465 1291.6,495.9C1292.5,526.8 1294,586.9 1294.5,605.1" stroke="#2A9D5A"/>
<path d="M1063.4,605.1 L1063.4,223.6" stroke="#A95FE0"/>
<path d="M1063.4,223.6C1064.8,220.9 1069,212.7 1071.8,207.2C1074.6,201.7 1077.4,196.2 1080.2,190.7C1083,185.2 1085.9,179.8 1088.7,174.3C1091.5,168.8 1094.3,163.3 1097.1,157.8C1099.9,152.3 1102.7,146.8 1105.5,141.4C1108.4,135.9 1111.2,130.4 1114,124.9C1116.8,119.4 1119.6,113.9 1122.4,108.5C1125.2,103 1128,97.5 1130.8,92C1133.7,86.5 1136.5,81 1139.3,75.6C1142.1,70.1 1146.3,61.8 1147.7,59.1" stroke="#A95FE0"/>
<path d="M1147.7,59.1C1148,65.8 1148,82.2 1149.5,99.1C1151,116.1 1153.3,142.2 1156.7,161C1160.2,179.8 1163.5,194.7 1170.2,212C1176.9,229.3 1188.2,246 1197.2,264.8C1206.2,283.6 1218.6,309.3 1224.2,324.8C1229.7,340.3 1229,338.8 1230.5,357.6C1232,376.4 1232.3,412.2 1233.2,437.7C1234,463.1 1234.7,482.6 1235.4,510.5C1236.1,538.4 1237.3,589.3 1237.6,605.1" stroke="#A95FE0"/>
<path d="M1063.4,605.1 L1063.4,206.5" stroke="#CC9308"/>
<path d="M1063.4,206.5C1064.4,204.1 1067.6,196.7 1069.7,191.8C1071.8,186.9 1074,182 1076.1,177C1078.2,172.1 1080.3,167.2 1082.4,162.3C1084.5,157.4 1086.7,152.5 1088.8,147.6C1090.9,142.6 1093,137.7 1095.1,132.8C1097.3,127.9 1099.4,123 1101.5,118.1C1103.6,113.2 1105.7,108.2 1107.9,103.3C1110,98.4 1112.1,93.5 1114.2,88.6C1116.3,83.7 1118.4,78.8 1120.6,73.8C1122.7,68.9 1125.9,61.6 1126.9,59.1" stroke="#CC9308"/>
<path d="M1126.9,59.1C1127.2,65.2 1127.2,78.2 1128.4,95.5C1129.6,112.8 1131.4,143.1 1134.2,162.8C1137,182.6 1139.7,196.2 1145.2,213.8C1150.6,231.4 1159.7,249.6 1167,268.4C1174.3,287.2 1184.4,311.8 1188.9,326.6C1193.4,341.5 1192.8,339.7 1194,357.6C1195.2,375.5 1195.5,408.5 1196.2,434C1196.9,459.5 1197.4,481.9 1198,510.5C1198.6,539 1199.6,589.3 1199.9,605.1" stroke="#CC9308"/>
<path d="M1063.4,605.1 L1063.4,180.7" stroke="#1CC8CC"/>
<path d="M1063.4,180.7C1064,178.6 1066,172.6 1067.4,168.5C1068.7,164.5 1070,160.4 1071.4,156.4C1072.7,152.3 1074.1,148.3 1075.4,144.2C1076.7,140.2 1078.1,136.1 1079.4,132C1080.7,128 1082.1,123.9 1083.4,119.9C1084.8,115.8 1086.1,111.8 1087.4,107.7C1088.8,103.7 1090.1,99.6 1091.5,95.6C1092.8,91.5 1094.1,87.5 1095.5,83.4C1096.8,79.4 1098.1,75.3 1099.5,71.3C1100.8,67.2 1102.8,61.1 1103.5,59.1" stroke="#1CC8CC"/>
<path d="M1103.5,59.1C1103.7,68.8 1103.7,98.5 1104.5,117.3C1105.4,136.1 1106.7,154 1108.7,171.9C1110.7,189.8 1112.7,207.1 1116.6,224.7C1120.5,242.3 1127.1,258.6 1132.3,277.5C1137.6,296.4 1144.8,322.5 1148.1,338.3C1151.3,354.1 1150.9,358 1151.7,372.1C1152.6,386.3 1152.8,401.3 1153.3,423.1C1153.8,444.9 1154.2,472.8 1154.6,503.2C1155,533.5 1155.7,588.1 1155.9,605.1" stroke="#1CC8CC"/>
<path d="M1063.4,605.1 L1063.4,157.4" stroke="#6E3B3B"/>
<path d="M1063.4,157.4C1063.8,155.7 1065.2,150.8 1066.1,147.6C1067.1,144.3 1068,141 1068.9,137.7C1069.9,134.4 1070.8,131.2 1071.7,127.9C1072.6,124.6 1073.6,121.3 1074.5,118.1C1075.4,114.8 1076.3,111.5 1077.3,108.2C1078.2,105 1079.1,101.7 1080.1,98.4C1081,95.1 1081.9,91.9 1082.8,88.6C1083.8,85.3 1084.7,82 1085.6,78.8C1086.5,75.5 1087.5,72.2 1088.4,68.9C1089.3,65.7 1090.7,60.7 1091.2,59.1" stroke="#6E3B3B"/>
<path d="M1091.2,59.1C1091.3,67.6 1091.3,87 1092,110.1C1092.6,133.1 1093.6,174.4 1095.1,197.4C1096.6,220.5 1098,230.5 1100.9,248.4C1103.8,266.3 1108.7,288.1 1112.6,304.8C1116.5,321.5 1121.9,336 1124.3,348.5C1126.7,360.9 1126.4,369.4 1127,379.4C1127.7,389.4 1127.8,389.1 1128.2,408.5C1128.6,428 1128.8,463.1 1129.2,495.9C1129.5,528.7 1130,586.9 1130.1,605.1" stroke="#6E3B3B"/>
<path d="M1063.4,605.1 L1063.4,121" stroke="#7F7F00"/>
<path d="M1063.4,121C1063.5,119.9 1064.1,116.9 1064.5,114.8C1064.8,112.7 1065.2,110.7 1065.6,108.6C1065.9,106.5 1066.3,104.5 1066.7,102.4C1067,100.4 1067.4,98.3 1067.8,96.2C1068.1,94.2 1068.5,92.1 1068.9,90C1069.2,88 1069.6,85.9 1070,83.9C1070.3,81.8 1070.7,79.7 1071,77.7C1071.4,75.6 1071.8,73.5 1072.1,71.5C1072.5,69.4 1072.9,67.4 1073.2,65.3C1073.6,63.2 1074.2,60.1 1074.3,59.1" stroke="#7F7F00"/>
<path d="M1074.3,59.1C1074.4,64 1074.4,72.4 1074.8,88.2C1075.2,104 1075.9,131.9 1076.8,153.7C1077.7,175.6 1078.6,196.2 1080.5,219.3C1082.3,242.3 1085.4,267.8 1087.8,292.1C1090.2,316.3 1093.6,349.7 1095.1,364.9C1096.6,380 1096.4,373.4 1096.8,383.1C1097.3,392.8 1097.4,403.1 1097.6,423.1C1097.8,443.1 1098,472.8 1098.2,503.2C1098.4,533.5 1098.7,588.1 1098.8,605.1" stroke="#7F7F00"/>
<path d="M1063.2,605.1 L1063.2,95.5" stroke="#FB6501"/>
<path d="M1063.2,95.5C1063.3,94.9 1063.4,93.1 1063.6,91.9C1063.7,90.6 1063.8,89.4 1063.9,88.2C1064,87 1064.2,85.8 1064.3,84.6C1064.4,83.4 1064.5,82.2 1064.6,80.9C1064.7,79.7 1064.9,78.5 1065,77.3C1065.1,76.1 1065.2,74.9 1065.3,73.7C1065.4,72.4 1065.6,71.2 1065.7,70C1065.8,68.8 1065.9,67.6 1066,66.4C1066.1,65.2 1066.3,64 1066.4,62.7C1066.5,61.5 1066.7,59.7 1066.7,59.1" stroke="#FB6501"/>
<path d="M1066.7,59.1C1066.8,67 1066.8,82.2 1067.1,106.4C1067.3,130.7 1067.7,173.8 1068.4,204.7C1069,235.6 1069.6,272.6 1070.9,292.1C1072.1,311.5 1074.2,309 1075.8,321.2C1077.5,333.3 1079.8,353.9 1080.8,364.9C1081.8,375.8 1081.7,378.8 1082,386.7C1082.2,394.6 1082.3,394 1082.5,412.2C1082.6,430.4 1082.7,463.7 1082.9,495.9C1083,528.1 1083.2,586.9 1083.3,605.1" stroke="#FB6501"/>
<path d="M1051.9,605.1 L1051.9,204.7" stroke="#6699CC"/>
<path d="M1051.9,204.7C1052.1,202.3 1052.6,195 1052.9,190.1C1053.3,185.3 1053.6,180.4 1053.9,175.6C1054.3,170.7 1054.6,165.9 1054.9,161C1055.3,156.2 1055.6,151.3 1055.9,146.5C1056.3,141.6 1056.6,136.8 1056.9,131.9C1057.2,127 1057.6,122.2 1057.9,117.3C1058.2,112.5 1058.6,107.6 1058.9,102.8C1059.2,97.9 1059.6,93.1 1059.9,88.2C1060.2,83.4 1060.6,78.5 1060.9,73.7C1061.2,68.8 1061.7,61.5 1061.9,59.1" stroke="#6699CC"/>
<path d="M1061.9,59.1C1061.9,67 1061.9,82.2 1062.1,106.4C1062.4,130.7 1062.7,173.8 1063.2,204.7C1063.6,235.6 1064.1,272.6 1065,292.1C1066,311.5 1067.6,309 1068.8,321.2C1070.1,333.3 1071.8,353.9 1072.6,364.9C1073.4,375.8 1073.3,378.8 1073.5,386.7C1073.7,394.6 1073.7,394 1073.9,412.2C1074,430.4 1074.1,463.7 1074.2,495.9C1074.3,528.1 1074.4,586.9 1074.5,605.1" stroke="#6699CC"/>
<path d="M1051.4,605.1 L1051.4,204.7" stroke="#6FB802"/>
<path d="M1051.4,204.7C1051.5,202.3 1051.9,195 1052.2,190.1C1052.4,185.3 1052.7,180.4 1053,175.6C1053.2,170.7 1053.5,165.9 1053.8,161C1054,156.2 1054.3,151.3 1054.6,146.5C1054.8,141.6 1055.1,136.8 1055.4,131.9C1055.6,127 1055.9,122.2 1056.2,117.3C1056.5,112.5 1056.7,107.6 1057,102.8C1057.3,97.9 1057.5,93.1 1057.8,88.2C1058.1,83.4 1058.3,78.5 1058.6,73.7C1058.9,68.8 1059.3,61.5 1059.4,59.1" stroke="#6FB802"/>
<path d="M1059.4,59.1C1059.4,67 1059.4,82.2 1059.6,106.4C1059.8,130.7 1060,173.8 1060.4,204.7C1060.8,235.6 1061.1,272.6 1061.9,292.1C1062.6,311.5 1063.8,309 1064.8,321.2C1065.8,333.3 1067.1,353.9 1067.7,364.9C1068.4,375.8 1068.3,378.8 1068.4,386.7C1068.6,394.6 1068.6,394 1068.7,412.2C1068.8,430.4 1068.9,463.7 1069,495.9C1069.1,528.1 1069.2,586.9 1069.2,605.1" stroke="#6FB802"/>
<path d="M1050.8,605.1 L1050.8,204.7" stroke="#454545"/>
<path d="M1050.8,204.7C1050.9,202.3 1051.2,195 1051.4,190.1C1051.5,185.3 1051.7,180.4 1051.9,175.6C1052.1,170.7 1052.3,165.9 1052.5,161C1052.7,156.2 1052.9,151.3 1053.1,146.5C1053.3,141.6 1053.5,136.8 1053.7,131.9C1053.9,127 1054.1,122.2 1054.3,117.3C1054.5,112.5 1054.7,107.6 1054.9,102.8C1055.1,97.9 1055.3,93.1 1055.5,88.2C1055.6,83.4 1055.8,78.5 1056,73.7C1056.2,68.8 1056.5,61.5 1056.6,59.1" stroke="#454545"/>
<path d="M1056.6,59.1C1056.6,67 1056.6,82.2 1056.8,106.4C1056.9,130.7 1057.1,173.8 1057.4,204.7C1057.6,235.6 1057.9,272.6 1058.5,292.1C1059,311.5 1059.9,309 1060.7,321.2C1061.4,333.3 1062.4,353.9 1062.8,364.9C1063.3,375.8 1063.2,378.8 1063.4,386.7C1063.5,394.6 1063.5,394 1063.6,412.2C1063.6,430.4 1063.7,463.7 1063.8,495.9C1063.8,528.1 1063.9,586.9 1063.9,605.1" stroke="#454545"/>
<path d="M1050.5,605.1 L1050.5,204.7" stroke="#F14040"/>
<path d="M1050.5,204.7C1050.6,202.3 1050.9,195 1051.1,190.1C1051.3,185.3 1051.5,180.4 1051.7,175.6C1051.9,170.7 1052.1,165.9 1052.3,161C1052.5,156.2 1052.7,151.3 1052.9,146.5C1053.1,141.6 1053.3,136.8 1053.5,131.9C1053.7,127 1053.9,122.2 1054.1,117.3C1054.3,112.5 1054.5,107.6 1054.7,102.8C1054.9,97.9 1055.1,93.1 1055.3,88.2C1055.5,83.4 1055.7,78.5 1055.9,73.7C1056.1,68.8 1056.4,61.5 1056.5,59.1" stroke="#F14040"/>
<path d="M1056.5,59.1C1056.5,67 1056.5,82.2 1056.6,106.4C1056.7,130.7 1056.9,173.8 1057.1,204.7C1057.3,235.6 1057.6,272.6 1058.1,292.1C1058.5,311.5 1059.3,309 1059.9,321.2C1060.6,333.3 1061.4,353.9 1061.8,364.9C1062.2,375.8 1062.2,378.8 1062.3,386.7C1062.4,394.6 1062.4,394 1062.5,412.2C1062.5,430.4 1062.6,463.7 1062.6,495.9C1062.7,528.1 1062.7,586.9 1062.8,605.1" stroke="#F14040"/>
<path d="M1050.2,605.1 L1050.2,204.7" stroke="#1A6FDF"/>
<path d="M1050.2,204.7C1050.3,202.3 1050.5,195 1050.6,190.1C1050.8,185.3 1050.9,180.4 1051.1,175.6C1051.2,170.7 1051.4,165.9 1051.5,161C1051.7,156.2 1051.8,151.3 1052,146.5C1052.1,141.6 1052.3,136.8 1052.4,131.9C1052.6,127 1052.8,122.2 1052.9,117.3C1053.1,112.5 1053.2,107.6 1053.4,102.8C1053.5,97.9 1053.7,93.1 1053.8,88.2C1054,83.4 1054.1,78.5 1054.3,73.7C1054.4,68.8 1054.6,61.5 1054.7,59.1" stroke="#1A6FDF"/>
<path d="M1054.7,59.1C1054.7,67 1054.7,82.2 1054.8,106.4C1054.9,130.7 1055.1,173.8 1055.3,204.7C1055.5,235.6 1055.7,272.6 1056.1,292.1C1056.6,311.5 1057.3,309 1057.9,321.2C1058.4,333.3 1059.2,353.9 1059.6,364.9C1059.9,375.8 1059.9,378.8 1060,386.7C1060.1,394.6 1060.1,394 1060.1,412.2C1060.2,430.4 1060.2,463.7 1060.3,495.9C1060.3,528.1 1060.4,586.9 1060.4,605.1" stroke="#1A6FDF"/>
<path d="M1049.9,605.1 L1049.9,204.7" stroke="#2A9D5A"/>
<path d="M1049.9,204.7C1050,202.3 1050.2,195 1050.3,190.1C1050.5,185.3 1050.6,180.4 1050.8,175.6C1050.9,170.7 1051.1,165.9 1051.2,161C1051.4,156.2 1051.5,151.3 1051.6,146.5C1051.8,141.6 1051.9,136.8 1052.1,131.9C1052.2,127 1052.4,122.2 1052.5,117.3C1052.7,112.5 1052.8,107.6 1053,102.8C1053.1,97.9 1053.3,93.1 1053.4,88.2C1053.5,83.4 1053.7,78.5 1053.8,73.7C1054,68.8 1054.2,61.5 1054.3,59.1" stroke="#2A9D5A"/>
<path d="M1054.3,59.1C1054.3,67 1054.3,82.2 1054.3,106.4C1054.4,130.7 1054.5,173.8 1054.6,204.7C1054.8,235.6 1054.9,272.6 1055.2,292.1C1055.4,311.5 1055.9,309 1056.2,321.2C1056.6,333.3 1057.1,353.9 1057.3,364.9C1057.5,375.8 1057.5,378.8 1057.5,386.7C1057.6,394.6 1057.6,394 1057.6,412.2C1057.7,430.4 1057.7,463.7 1057.7,495.9C1057.7,528.1 1057.8,586.9 1057.8,605.1" stroke="#2A9D5A"/>
<path d="M1049.6,605.1 L1049.6,204.7" stroke="#A95FE0"/>
<path d="M1049.6,204.7C1049.6,202.3 1049.7,195 1049.8,190.1C1049.9,185.3 1050,180.4 1050,175.6C1050.1,170.7 1050.2,165.9 1050.3,161C1050.3,156.2 1050.4,151.3 1050.5,146.5C1050.5,141.6 1050.6,136.8 1050.7,131.9C1050.8,127 1050.8,122.2 1050.9,117.3C1051,112.5 1051.1,107.6 1051.1,102.8C1051.2,97.9 1051.3,93.1 1051.4,88.2C1051.4,83.4 1051.5,78.5 1051.6,73.7C1051.6,68.8 1051.8,61.5 1051.8,59.1" stroke="#A95FE0"/>
<path d="M1051.8,59.1C1051.8,67 1051.8,82.2 1051.8,106.4C1051.9,130.7 1051.9,173.8 1052,204.7C1052.1,235.6 1052.1,272.6 1052.3,292.1C1052.4,311.5 1052.6,309 1052.8,321.2C1053,333.3 1053.3,353.9 1053.4,364.9C1053.5,375.8 1053.5,378.8 1053.5,386.7C1053.6,394.6 1053.6,394 1053.6,412.2C1053.6,430.4 1053.6,463.7 1053.6,495.9C1053.7,528.1 1053.7,586.9 1053.7,605.1" stroke="#A95FE0"/>
</g>
<rect x="1049.3" y="22.7" width="732.3" height="582.4" fill="none" stroke="#000" stroke-width="2.5"/>
<path d="M1049.3,605.1V616.1M1195.8,605.1V616.1M1342.2,605.1V616.1M1488.7,605.1V616.1M1635.1,605.1V616.1M1781.6,605.1V616.1" stroke="#000" stroke-width="2.4" fill="none"/>
<path d="M1049.3,605.1H1037.3M1049.3,532.3H1037.3M1049.3,459.5H1037.3M1049.3,386.7H1037.3M1049.3,313.9H1037.3M1049.3,241.1H1037.3M1049.3,168.3H1037.3M1049.3,95.5H1037.3M1049.3,22.7H1037.3" stroke="#000" stroke-width="2.4" fill="none"/>
<text x="1049.3" y="645.3" font-size="27.7" text-anchor="middle" style="font-family:'Liberation Serif','Times New Roman',serif;font-weight:bold">0</text>
<text x="1195.8" y="645.3" font-size="27.7" text-anchor="middle" style="font-family:'Liberation Serif','Times New Roman',serif;font-weight:bold">50</text>
<text x="1342.2" y="645.3" font-size="27.7" text-anchor="middle" style="font-family:'Liberation Serif','Times New Roman',serif;font-weight:bold">100</text>
<text x="1488.7" y="645.3" font-size="27.7" text-anchor="middle" style="font-family:'Liberation Serif','Times New Roman',serif;font-weight:bold">150</text>
<text x="1635.1" y="645.3" font-size="27.7" text-anchor="middle" style="font-family:'Liberation Serif','Times New Roman',serif;font-weight:bold">200</text>
<text x="1781.6" y="645.3" font-size="27.7" text-anchor="middle" style="font-family:'Liberation Serif','Times New Roman',serif;font-weight:bold">250</text>
<text x="1030" y="613.9" font-size="27.7" text-anchor="end" style="font-family:'Liberation Serif','Times New Roman',serif;font-weight:bold">0.0</text>
<text x="1030" y="541.1" font-size="27.7" text-anchor="end" style="font-family:'Liberation Serif','Times New Roman',serif;font-weight:bold">0.2</text>
<text x="1030" y="468.3" font-size="27.7" text-anchor="end" style="font-family:'Liberation Serif','Times New Roman',serif;font-weight:bold">0.4</text>
<text x="1030" y="395.5" font-size="27.7" text-anchor="end" style="font-family:'Liberation Serif','Times New Roman',serif;font-weight:bold">0.6</text>
<text x="1030" y="322.7" font-size="27.7" text-anchor="end" style="font-family:'Liberation Serif','Times New Roman',serif;font-weight:bold">0.8</text>
<text x="1030" y="249.9" font-size="27.7" text-anchor="end" style="font-family:'Liberation Serif','Times New Roman',serif;font-weight:bold">1.0</text>
<text x="1030" y="177.1" font-size="27.7" text-anchor="end" style="font-family:'Liberation Serif','Times New Roman',serif;font-weight:bold">1.2</text>
<text x="1030" y="104.3" font-size="27.7" text-anchor="end" style="font-family:'Liberation Serif','Times New Roman',serif;font-weight:bold">1.4</text>
<text x="1030" y="31.5" font-size="27.7" text-anchor="end" style="font-family:'Liberation Serif','Times New Roman',serif;font-weight:bold">1.6</text>
<text x="1415" y="694.5" font-size="30.5" text-anchor="middle" style="font-family:'Liberation Serif','Times New Roman',serif;font-weight:bold">Time (s)</text>
<text x="962" y="296.5" font-size="30.5" text-anchor="middle" style="font-family:'Liberation Serif','Times New Roman',serif;font-weight:bold" transform="rotate(-90 962 296.5)">Potential (V)</text>
<text x="1422.5" y="86.6" font-size="61.5" text-anchor="middle" style="font-family:'Liberation Serif','Times New Roman',serif;font-weight:bold">(b)</text>
<rect x="1620" y="29.2" width="150.8" height="496" fill="#fff" stroke="#555" stroke-width="1.8"/>
<path d="M1621.8,47.2H1673.9" stroke="#F14040" stroke-width="3"/>
<text x="1679.2" y="55" font-size="22" style="font-family:'Liberation Serif','Times New Roman',serif;font-weight:bold">1.3 A g<tspan font-size="14.5" dy="-9.5">-1</tspan></text>
<path d="M1621.8,77.9H1673.9" stroke="#1A6FDF" stroke-width="3"/>
<text x="1679.2" y="85.7" font-size="22" style="font-family:'Liberation Serif','Times New Roman',serif;font-weight:bold">2 A g<tspan font-size="14.5" dy="-9.5">-1</tspan></text>
<path d="M1621.8,108.7H1673.9" stroke="#2A9D5A" stroke-width="3"/>
<text x="1679.2" y="116.5" font-size="22" style="font-family:'Liberation Serif','Times New Roman',serif;font-weight:bold">2.7 A g<tspan font-size="14.5" dy="-9.5">-1</tspan></text>
<path d="M1621.8,139.4H1673.9" stroke="#A95FE0" stroke-width="3"/>
<text x="1679.2" y="147.2" font-size="22" style="font-family:'Liberation Serif','Times New Roman',serif;font-weight:bold">3.3 A g<tspan font-size="14.5" dy="-9.5">-1</tspan></text>
<path d="M1621.8,170.2H1673.9" stroke="#CC9308" stroke-width="3"/>
<text x="1679.2" y="178" font-size="22" style="font-family:'Liberation Serif','Times New Roman',serif;font-weight:bold">4 A g<tspan font-size="14.5" dy="-9.5">-1</tspan></text>
<path d="M1621.8,200.9H1673.9" stroke="#1CC8CC" stroke-width="3"/>
<text x="1679.2" y="208.7" font-size="22" style="font-family:'Liberation Serif','Times New Roman',serif;font-weight:bold">5.3 A g<tspan font-size="14.5" dy="-9.5">-1</tspan></text>
<path d="M1621.8,231.6H1673.9" stroke="#6E3B3B" stroke-width="3"/>
<text x="1679.2" y="239.4" font-size="22" style="font-family:'Liberation Serif','Times New Roman',serif;font-weight:bold">6.7 A g<tspan font-size="14.5" dy="-9.5">-1</tspan></text>
<path d="M1621.8,262.4H1673.9" stroke="#7F7F00" stroke-width="3"/>
<text x="1679.2" y="270.2" font-size="22" style="font-family:'Liberation Serif','Times New Roman',serif;font-weight:bold">10 A g<tspan font-size="14.5" dy="-9.5">-1</tspan></text>
<path d="M1621.8,293.1H1673.9" stroke="#FB6501" stroke-width="3"/>
<text x="1679.2" y="300.9" font-size="22" style="font-family:'Liberation Serif','Times New Roman',serif;font-weight:bold">13.3 A g<tspan font-size="14.5" dy="-9.5">-1</tspan></text>
<path d="M1621.8,323.9H1673.9" stroke="#6699CC" stroke-width="3"/>
<text x="1679.2" y="331.7" font-size="22" style="font-family:'Liberation Serif','Times New Roman',serif;font-weight:bold">16.7 A g<tspan font-size="14.5" dy="-9.5">-1</tspan></text>
<path d="M1621.8,354.6H1673.9" stroke="#6FB802" stroke-width="3"/>
<text x="1679.2" y="362.4" font-size="22" style="font-family:'Liberation Serif','Times New Roman',serif;font-weight:bold">20 A g<tspan font-size="14.5" dy="-9.5">-1</tspan></text>
<path d="M1621.8,385.3H1673.9" stroke="#454545" stroke-width="3"/>
<text x="1679.2" y="393.1" font-size="22" style="font-family:'Liberation Serif','Times New Roman',serif;font-weight:bold">23.3 A g<tspan font-size="14.5" dy="-9.5">-1</tspan></text>
<path d="M1621.8,416.1H1673.9" stroke="#F14040" stroke-width="3"/>
<text x="1679.2" y="423.9" font-size="22" style="font-family:'Liberation Serif','Times New Roman',serif;font-weight:bold">26.7 A g<tspan font-size="14.5" dy="-9.5">-1</tspan></text>
<path d="M1621.8,446.8H1673.9" stroke="#1A6FDF" stroke-width="3"/>
<text x="1679.2" y="454.6" font-size="22" style="font-family:'Liberation Serif','Times New Roman',serif;font-weight:bold">30 A g<tspan font-size="14.5" dy="-9.5">-1</tspan></text>
<path d="M1621.8,477.6H1673.9" stroke="#2A9D5A" stroke-width="3"/>
<text x="1679.2" y="485.4" font-size="22" style="font-family:'Liberation Serif','Times New Roman',serif;font-weight:bold">33.3 A g<tspan font-size="14.5" dy="-9.5">-1</tspan></text>
<path d="M1621.8,508.3H1673.9" stroke="#A95FE0" stroke-width="3"/>
<text x="1679.2" y="516.1" font-size="22" style="font-family:'Liberation Serif','Times New Roman',serif;font-weight:bold">40 A g<tspan font-size="14.5" dy="-9.5">-1</tspan></text>
<path d="M171.8,809 L183.2,832.8 L193,826.7 L204.5,868.1 L215.9,893.1 L237.1,920.5 L258.4,941.9 L314,996.7 L367.9,1039.1 L421.9,1075.7 L476.5,1099.8 L530.1,1146.9 L584.9,1177.1 L640.6,1209.8 L694.4,1217.9 L804,1283.7" fill="none" stroke="#2a2a2a" stroke-width="1.7"/>
<path d="M171.8,796.6L184.2,809L171.8,821.4L159.4,809ZM183.2,820.4L195.6,832.8L183.2,845.2L170.8,832.8ZM193,814.3L205.4,826.7L193,839.1L180.6,826.7ZM204.5,855.7L216.9,868.1L204.5,880.5L192.1,868.1ZM215.9,880.7L228.3,893.1L215.9,905.5L203.5,893.1ZM237.1,908.1L249.5,920.5L237.1,932.9L224.7,920.5ZM258.4,929.5L270.8,941.9L258.4,954.3L246,941.9ZM314,984.3L326.4,996.7L314,1009.1L301.6,996.7ZM367.9,1026.7L380.3,1039.1L367.9,1051.5L355.5,1039.1ZM421.9,1063.3L434.3,1075.7L421.9,1088.1L409.5,1075.7ZM476.5,1087.4L488.9,1099.8L476.5,1112.2L464.1,1099.8ZM530.1,1134.5L542.5,1146.9L530.1,1159.3L517.7,1146.9ZM584.9,1164.7L597.3,1177.1L584.9,1189.5L572.5,1177.1ZM640.6,1197.4L653,1209.8L640.6,1222.2L628.2,1209.8ZM694.4,1205.5L706.8,1217.9L694.4,1230.3L682,1217.9ZM804,1271.3L816.4,1283.7L804,1296.1L791.6,1283.7Z" fill="#fff" stroke="#fff" stroke-width="6" stroke-linejoin="round"/>
<path d="M171.8,796.6L184.2,809L171.8,821.4L159.4,809ZM183.2,820.4L195.6,832.8L183.2,845.2L170.8,832.8ZM193,814.3L205.4,826.7L193,839.1L180.6,826.7ZM204.5,855.7L216.9,868.1L204.5,880.5L192.1,868.1ZM215.9,880.7L228.3,893.1L215.9,905.5L203.5,893.1ZM237.1,908.1L249.5,920.5L237.1,932.9L224.7,920.5ZM258.4,929.5L270.8,941.9L258.4,954.3L246,941.9ZM314,984.3L326.4,996.7L314,1009.1L301.6,996.7ZM367.9,1026.7L380.3,1039.1L367.9,1051.5L355.5,1039.1ZM421.9,1063.3L434.3,1075.7L421.9,1088.1L409.5,1075.7ZM476.5,1087.4L488.9,1099.8L476.5,1112.2L464.1,1099.8ZM530.1,1134.5L542.5,1146.9L530.1,1159.3L517.7,1146.9ZM584.9,1164.7L597.3,1177.1L584.9,1189.5L572.5,1177.1ZM640.6,1197.4L653,1209.8L640.6,1222.2L628.2,1209.8ZM694.4,1205.5L706.8,1217.9L694.4,1230.3L682,1217.9ZM804,1271.3L816.4,1283.7L804,1296.1L791.6,1283.7Z" fill="#FF0000" stroke="none"/>
<rect x="150.5" y="771.3" width="735.7" height="609.3" fill="none" stroke="#000" stroke-width="2.6"/>
<path d="M150.5,1380.6V1392.1M232.2,1380.6V1392.1M314,1380.6V1392.1M395.7,1380.6V1392.1M477.5,1380.6V1392.1M559.2,1380.6V1392.1M641,1380.6V1392.1M722.7,1380.6V1392.1M804.5,1380.6V1392.1M886.2,1380.6V1392.1" stroke="#000" stroke-width="2.4" fill="none"/>
<path d="M150.5,1380.6H138.5M150.5,1258.7H138.5M150.5,1136.9H138.5M150.5,1015H138.5M150.5,893.1H138.5M150.5,771.2H138.5" stroke="#000" stroke-width="2.4" fill="none"/>
<text x="150.5" y="1423" font-size="27.5" text-anchor="middle" style="font-family:'Liberation Serif','Times New Roman',serif;font-weight:bold">0</text>
<text x="232.2" y="1423" font-size="27.5" text-anchor="middle" style="font-family:'Liberation Serif','Times New Roman',serif;font-weight:bold">5</text>
<text x="314" y="1423" font-size="27.5" text-anchor="middle" style="font-family:'Liberation Serif','Times New Roman',serif;font-weight:bold">10</text>
<text x="395.7" y="1423" font-size="27.5" text-anchor="middle" style="font-family:'Liberation Serif','Times New Roman',serif;font-weight:bold">15</text>
<text x="477.5" y="1423" font-size="27.5" text-anchor="middle" style="font-family:'Liberation Serif','Times New Roman',serif;font-weight:bold">20</text>
<text x="559.2" y="1423" font-size="27.5" text-anchor="middle" style="font-family:'Liberation Serif','Times New Roman',serif;font-weight:bold">25</text>
<text x="641" y="1423" font-size="27.5" text-anchor="middle" style="font-family:'Liberation Serif','Times New Roman',serif;font-weight:bold">30</text>
<text x="722.7" y="1423" font-size="27.5" text-anchor="middle" style="font-family:'Liberation Serif','Times New Roman',serif;font-weight:bold">35</text>
<text x="804.5" y="1423" font-size="27.5" text-anchor="middle" style="font-family:'Liberation Serif','Times New Roman',serif;font-weight:bold">40</text>
<text x="886.2" y="1423" font-size="27.5" text-anchor="middle" style="font-family:'Liberation Serif','Times New Roman',serif;font-weight:bold">45</text>
<text x="131.2" y="1389.8" font-size="27.5" text-anchor="end" style="font-family:'Liberation Serif','Times New Roman',serif;font-weight:bold">20</text>
<text x="131.2" y="1267.9" font-size="27.5" text-anchor="end" style="font-family:'Liberation Serif','Times New Roman',serif;font-weight:bold">40</text>
<text x="131.2" y="1146.1" font-size="27.5" text-anchor="end" style="font-family:'Liberation Serif','Times New Roman',serif;font-weight:bold">60</text>
<text x="131.2" y="1024.2" font-size="27.5" text-anchor="end" style="font-family:'Liberation Serif','Times New Roman',serif;font-weight:bold">80</text>
<text x="131.2" y="902.3" font-size="27.5" text-anchor="end" style="font-family:'Liberation Serif','Times New Roman',serif;font-weight:bold">100</text>
<text x="131.2" y="780.4" font-size="27.5" text-anchor="end" style="font-family:'Liberation Serif','Times New Roman',serif;font-weight:bold">120</text>
<text x="518.5" y="1478.6" font-size="31" text-anchor="middle" style="font-family:'Liberation Serif','Times New Roman',serif;font-weight:bold">Current Density (A g<tspan font-size="20" dy="-13">-1</tspan><tspan dy="13">)</tspan></text>
<text x="64.5" y="1075.4" font-size="31.5" text-anchor="middle" style="font-family:'Liberation Serif','Times New Roman',serif;font-weight:bold" transform="rotate(-90 64.5 1075.4)">Specific Capacitance (F g<tspan font-size="20.5" dy="-13">-1</tspan><tspan dy="13">)</tspan></text>
<text x="510.8" y="838.3" font-size="59" text-anchor="middle" style="font-family:'Liberation Serif','Times New Roman',serif;font-weight:bold">(c)</text>
<rect x="627.6" y="782.3" width="249.6" height="44.5" fill="#fff" stroke="#444" stroke-width="1.6"/>
<text x="753" y="816.6" font-size="30.7" text-anchor="middle" style="font-family:'Liberation Serif','Times New Roman',serif;font-weight:bold">Rate Performance</text>
<rect x="1068.1" y="1068.1" width="18.8" height="20" fill="#fff" stroke="#FF0000" stroke-width="2.2" rx="1"/>
<rect x="1067.1" y="1067.1" width="20.8" height="12.5" fill="#FF0000" rx="1"/>
<rect x="1152.5" y="1119.7" width="18.8" height="20" fill="#fff" stroke="#FF0000" stroke-width="2.2" rx="1"/>
<rect x="1151.5" y="1118.7" width="20.8" height="12.5" fill="#FF0000" rx="1"/>
<rect x="1236.9" y="1119.7" width="18.8" height="20" fill="#fff" stroke="#FF0000" stroke-width="2.2" rx="1"/>
<rect x="1235.9" y="1118.7" width="20.8" height="12.5" fill="#FF0000" rx="1"/>
<rect x="1321.3" y="1119.7" width="18.8" height="20" fill="#fff" stroke="#FF0000" stroke-width="2.2" rx="1"/>
<rect x="1320.3" y="1118.7" width="20.8" height="12.5" fill="#FF0000" rx="1"/>
<rect x="1405.7" y="1119.7" width="18.8" height="20" fill="#fff" stroke="#FF0000" stroke-width="2.2" rx="1"/>
<rect x="1404.7" y="1118.7" width="20.8" height="12.5" fill="#FF0000" rx="1"/>
<rect x="1490.1" y="1119.7" width="18.8" height="20" fill="#fff" stroke="#FF0000" stroke-width="2.2" rx="1"/>
<rect x="1489.1" y="1118.7" width="20.8" height="12.5" fill="#FF0000" rx="1"/>
<rect x="1574.6" y="1119.7" width="18.8" height="20" fill="#fff" stroke="#FF0000" stroke-width="2.2" rx="1"/>
<rect x="1573.6" y="1118.7" width="20.8" height="12.5" fill="#FF0000" rx="1"/>
<rect x="1659" y="1119.7" width="18.8" height="20" fill="#fff" stroke="#FF0000" stroke-width="2.2" rx="1"/>
<rect x="1658" y="1118.7" width="20.8" height="12.5" fill="#FF0000" rx="1"/>
<rect x="1743.4" y="1119.7" width="18.8" height="20" fill="#fff" stroke="#FF0000" stroke-width="2.2" rx="1"/>
<rect x="1742.4" y="1118.7" width="20.8" height="12.5" fill="#FF0000" rx="1"/>
<rect x="1060.5" y="767.7" width="734" height="621.4" fill="none" stroke="#000" stroke-width="2.6"/>
<path d="M1077.5,1389.1V1401.1M1246.3,1389.1V1401.1M1415.1,1389.1V1401.1M1584,1389.1V1401.1M1752.8,1389.1V1401.1" stroke="#000" stroke-width="2.4" fill="none"/>
<path d="M1060.5,1389.1H1048.5M1060.5,1327H1048.5M1060.5,1264.8H1048.5M1060.5,1202.7H1048.5M1060.5,1140.5H1048.5M1060.5,1078.4H1048.5M1060.5,1016.3H1048.5M1060.5,954.1H1048.5M1060.5,892H1048.5M1060.5,829.8H1048.5M1060.5,767.7H1048.5" stroke="#000" stroke-width="2.4" fill="none"/>
<text x="1077.5" y="1432.7" font-size="27.8" text-anchor="middle" style="font-family:'Liberation Serif','Times New Roman',serif;font-weight:bold">0</text>
<text x="1246.3" y="1432.7" font-size="27.8" text-anchor="middle" style="font-family:'Liberation Serif','Times New Roman',serif;font-weight:bold">2000</text>
<text x="1415.1" y="1432.7" font-size="27.8" text-anchor="middle" style="font-family:'Liberation Serif','Times New Roman',serif;font-weight:bold">4000</text>
<text x="1584" y="1432.7" font-size="27.8" text-anchor="middle" style="font-family:'Liberation Serif','Times New Roman',serif;font-weight:bold">6000</text>
<text x="1752.8" y="1432.7" font-size="27.8" text-anchor="middle" style="font-family:'Liberation Serif','Times New Roman',serif;font-weight:bold">8000</text>
<text x="1041.8" y="1398.4" font-size="27.8" text-anchor="end" style="font-family:'Liberation Serif','Times New Roman',serif;font-weight:bold">0</text>
<text x="1041.8" y="1336.3" font-size="27.8" text-anchor="end" style="font-family:'Liberation Serif','Times New Roman',serif;font-weight:bold">20</text>
<text x="1041.8" y="1274.1" font-size="27.8" text-anchor="end" style="font-family:'Liberation Serif','Times New Roman',serif;font-weight:bold">40</text>
<text x="1041.8" y="1212" font-size="27.8" text-anchor="end" style="font-family:'Liberation Serif','Times New Roman',serif;font-weight:bold">60</text>
<text x="1041.8" y="1149.8" font-size="27.8" text-anchor="end" style="font-family:'Liberation Serif','Times New Roman',serif;font-weight:bold">80</text>
<text x="1041.8" y="1087.7" font-size="27.8" text-anchor="end" style="font-family:'Liberation Serif','Times New Roman',serif;font-weight:bold">100</text>
<text x="1041.8" y="1025.6" font-size="27.8" text-anchor="end" style="font-family:'Liberation Serif','Times New Roman',serif;font-weight:bold">120</text>
<text x="1041.8" y="963.4" font-size="27.8" text-anchor="end" style="font-family:'Liberation Serif','Times New Roman',serif;font-weight:bold">140</text>
<text x="1041.8" y="901.3" font-size="27.8" text-anchor="end" style="font-family:'Liberation Serif','Times New Roman',serif;font-weight:bold">160</text>
<text x="1041.8" y="839.1" font-size="27.8" text-anchor="end" style="font-family:'Liberation Serif','Times New Roman',serif;font-weight:bold">180</text>
<text x="1041.8" y="777" font-size="27.8" text-anchor="end" style="font-family:'Liberation Serif','Times New Roman',serif;font-weight:bold">200</text>
<text x="1427.8" y="1485" font-size="30.5" text-anchor="middle" style="font-family:'Liberation Serif','Times New Roman',serif;font-weight:bold">Cycle number</text>
<text x="965.5" y="1058.5" font-size="32" text-anchor="middle" style="font-family:'Liberation Serif','Times New Roman',serif;font-weight:bold" transform="rotate(-90 965.5 1058.5)">Capacative retention (%)</text>
<text x="1422.5" y="838.5" font-size="59" text-anchor="middle" style="font-family:'Liberation Serif','Times New Roman',serif;font-weight:bold">(d)</text>
<rect x="1502.6" y="782.8" width="278.2" height="45.6" fill="#fff" stroke="#444" stroke-width="1.6"/>
<rect x="1531.8" y="795.4" width="19.5" height="20.5" fill="#fff" stroke="#FF0000" stroke-width="2.2" rx="1"/>
<rect x="1530.8" y="794.4" width="21.5" height="12.8" fill="#FF0000" rx="1"/>
<text x="1584.5" y="816.6" font-size="30.5" text-anchor="start" style="font-family:'Liberation Serif','Times New Roman',serif;font-weight:normal">Cyclic Stability</text>
<defs><clipPath id="clipE"><rect x="560" y="1563" width="823.1" height="681.8"/></clipPath><clipPath id="clipI"><rect x="952.4" y="1865.6" width="409.8" height="340.8"/></clipPath></defs>
<g clip-path="url(#clipE)">
<path d="M1283.8,1643.3 L1152.5,1714.6 L1042.3,1777.6 L952.6,1832.1 L879,1883.3 L820,1928.6 L770.7,1969 L731,2006 L699.8,2039.3 L673.8,2067.1 L652.4,2091.7 L634.5,2113.1 L620.7,2131 L610,2148.8 L601,2162.9 L594.7,2172.9 L589.8,2182.9 L585,2191.8 L581.1,2199.7 L577.2,2206.5 L573.8,2212.2 L571.2,2217 L569,2221.7 L567.2,2225.9 L565.6,2229.6 L564.4,2232.7 L563.5,2235.9 L562.7,2238.5 L562.2,2240.6 L561.8,2242.2 L561.6,2243.2 L561.5,2244 L561.4,2244.5" fill="none" stroke="#333" stroke-width="1.45"/>
<path d="M1283.8,1631L1287,1638.8L1295.5,1639.5L1289,1645L1291,1653.3L1283.8,1648.8L1276.5,1653.3L1278.5,1645L1272.1,1639.5L1280.5,1638.8ZM1152.5,1702.3L1155.8,1710.1L1164.2,1710.7L1157.8,1716.3L1159.8,1724.5L1152.5,1720.1L1145.3,1724.5L1147.3,1716.3L1140.8,1710.7L1149.3,1710.1ZM1042.3,1765.3L1045.6,1773.1L1054,1773.8L1047.6,1779.3L1049.5,1787.6L1042.3,1783.1L1035.1,1787.6L1037,1779.3L1030.6,1773.8L1039.1,1773.1ZM952.6,1819.8L955.9,1827.6L964.3,1828.3L957.9,1833.8L959.9,1842L952.6,1837.6L945.4,1842L947.4,1833.8L940.9,1828.3L949.4,1827.6ZM879,1871L882.3,1878.8L890.7,1879.5L884.3,1885L886.2,1893.2L879,1888.8L871.8,1893.2L873.8,1885L867.3,1879.5L875.8,1878.8ZM820,1916.3L823.3,1924.1L831.7,1924.8L825.3,1930.3L827.3,1938.5L820,1934.1L812.8,1938.5L814.8,1930.3L808.3,1924.8L816.8,1924.1ZM770.7,1956.7L774,1964.5L782.4,1965.2L776,1970.7L778,1979L770.7,1974.6L763.5,1979L765.5,1970.7L759,1965.2L767.5,1964.5ZM731,1993.7L734.3,2001.5L742.7,2002.2L736.3,2007.7L738.3,2015.9L731,2011.5L723.8,2015.9L725.8,2007.7L719.3,2002.2L727.8,2001.5ZM699.8,2027L703.1,2034.8L711.5,2035.5L705.1,2041L707.1,2049.3L699.8,2044.9L692.6,2049.3L694.6,2041L688.1,2035.5L696.6,2034.8ZM673.8,2054.8L677,2062.6L685.5,2063.3L679.1,2068.8L681,2077L673.8,2072.6L666.6,2077L668.5,2068.8L662.1,2063.3L670.5,2062.6ZM652.4,2079.4L655.6,2087.2L664.1,2087.9L657.7,2093.4L659.6,2101.7L652.4,2097.2L645.2,2101.7L647.1,2093.4L640.7,2087.9L649.1,2087.2ZM634.5,2100.8L637.7,2108.6L646.2,2109.3L639.7,2114.8L641.7,2123L634.5,2118.6L627.2,2123L629.2,2114.8L622.8,2109.3L631.2,2108.6ZM620.7,2118.7L624,2126.5L632.4,2127.2L626,2132.7L627.9,2140.9L620.7,2136.5L613.5,2140.9L615.5,2132.7L609,2127.2L617.5,2126.5ZM610,2136.5L613.2,2144.3L621.7,2145L615.2,2150.5L617.2,2158.7L610,2154.3L602.7,2158.7L604.7,2150.5L598.3,2145L606.7,2144.3ZM601,2150.6L604.2,2158.4L612.7,2159.1L606.2,2164.6L608.2,2172.9L601,2168.4L593.7,2172.9L595.7,2164.6L589.3,2159.1L597.7,2158.4ZM594.7,2160.6L597.9,2168.4L606.4,2169.1L599.9,2174.6L601.9,2182.8L594.7,2178.4L587.4,2182.8L589.4,2174.6L583,2169.1L591.4,2168.4ZM589.8,2170.6L593.1,2178.4L601.5,2179L595.1,2184.6L597.1,2192.8L589.8,2188.4L582.6,2192.8L584.6,2184.6L578.1,2179L586.6,2178.4ZM585,2179.5L588.2,2187.3L596.7,2188L590.2,2193.5L592.2,2201.7L585,2197.3L577.8,2201.7L579.7,2193.5L573.3,2188L581.7,2187.3ZM581.1,2187.3L584.4,2195.2L592.8,2195.8L586.4,2201.4L588.3,2209.6L581.1,2205.2L573.9,2209.6L575.8,2201.4L569.4,2195.8L577.9,2195.2ZM577.2,2194.2L580.5,2202L588.9,2202.7L582.5,2208.2L584.5,2216.4L577.2,2212L570,2216.4L572,2208.2L565.5,2202.7L574,2202ZM573.8,2199.9L577.1,2207.8L585.5,2208.4L579.1,2214L581.1,2222.2L573.8,2217.8L566.6,2222.2L568.6,2214L562.1,2208.4L570.6,2207.8ZM571.2,2204.7L574.5,2212.5L582.9,2213.2L576.5,2218.7L578.5,2226.9L571.2,2222.5L564,2226.9L566,2218.7L559.5,2213.2L568,2212.5ZM569,2209.4L572.3,2217.2L580.7,2217.9L574.3,2223.4L576.2,2231.7L569,2227.2L561.8,2231.7L563.7,2223.4L557.3,2217.9L565.7,2217.2ZM567.2,2213.6L570.4,2221.4L578.9,2222.1L572.4,2227.6L574.4,2235.9L567.2,2231.4L559.9,2235.9L561.9,2227.6L555.5,2222.1L563.9,2221.4ZM565.6,2217.3L568.9,2225.1L577.3,2225.8L570.9,2231.3L572.8,2239.5L565.6,2235.1L558.4,2239.5L560.3,2231.3L553.9,2225.8L562.4,2225.1ZM564.4,2220.4L567.7,2228.2L576.1,2228.9L569.7,2234.4L571.7,2242.7L564.4,2238.3L557.2,2242.7L559.2,2234.4L552.8,2228.9L561.2,2228.2ZM563.5,2223.6L566.7,2231.4L575.2,2232.1L568.7,2237.6L570.7,2245.8L563.5,2241.4L556.3,2245.8L558.2,2237.6L551.8,2232.1L560.2,2231.4ZM562.7,2226.2L566,2234L574.4,2234.7L568,2240.2L569.9,2248.5L562.7,2244L555.5,2248.5L557.4,2240.2L551,2234.7L559.5,2234ZM562.2,2228.3L565.5,2236.1L573.9,2236.8L567.5,2242.3L569.5,2250.6L562.2,2246.1L555,2250.6L557,2242.3L550.5,2236.8L559,2236.1ZM561.8,2229.9L565.1,2237.7L573.5,2238.4L567.1,2243.9L569.1,2252.1L561.8,2247.7L554.6,2252.1L556.6,2243.9L550.1,2238.4L558.6,2237.7ZM561.6,2230.9L564.9,2238.7L573.3,2239.4L566.9,2244.9L568.9,2253.2L561.6,2248.8L554.4,2253.2L556.4,2244.9L549.9,2239.4L558.4,2238.7ZM561.5,2231.7L564.7,2239.5L573.2,2240.2L566.8,2245.7L568.7,2254L561.5,2249.5L554.3,2254L556.2,2245.7L549.8,2240.2L558.2,2239.5ZM561.4,2232.2L564.7,2240.1L573.1,2240.7L566.7,2246.2L568.7,2254.5L561.4,2250.1L554.2,2254.5L556.2,2246.2L549.7,2240.7L558.2,2240.1Z" fill="#fff" stroke="#fff" stroke-width="7" stroke-linejoin="round"/>
<path d="M1283.8,1631L1287,1638.8L1295.5,1639.5L1289,1645L1291,1653.3L1283.8,1648.8L1276.5,1653.3L1278.5,1645L1272.1,1639.5L1280.5,1638.8ZM1152.5,1702.3L1155.8,1710.1L1164.2,1710.7L1157.8,1716.3L1159.8,1724.5L1152.5,1720.1L1145.3,1724.5L1147.3,1716.3L1140.8,1710.7L1149.3,1710.1ZM1042.3,1765.3L1045.6,1773.1L1054,1773.8L1047.6,1779.3L1049.5,1787.6L1042.3,1783.1L1035.1,1787.6L1037,1779.3L1030.6,1773.8L1039.1,1773.1ZM952.6,1819.8L955.9,1827.6L964.3,1828.3L957.9,1833.8L959.9,1842L952.6,1837.6L945.4,1842L947.4,1833.8L940.9,1828.3L949.4,1827.6ZM879,1871L882.3,1878.8L890.7,1879.5L884.3,1885L886.2,1893.2L879,1888.8L871.8,1893.2L873.8,1885L867.3,1879.5L875.8,1878.8ZM820,1916.3L823.3,1924.1L831.7,1924.8L825.3,1930.3L827.3,1938.5L820,1934.1L812.8,1938.5L814.8,1930.3L808.3,1924.8L816.8,1924.1ZM770.7,1956.7L774,1964.5L782.4,1965.2L776,1970.7L778,1979L770.7,1974.6L763.5,1979L765.5,1970.7L759,1965.2L767.5,1964.5ZM731,1993.7L734.3,2001.5L742.7,2002.2L736.3,2007.7L738.3,2015.9L731,2011.5L723.8,2015.9L725.8,2007.7L719.3,2002.2L727.8,2001.5ZM699.8,2027L703.1,2034.8L711.5,2035.5L705.1,2041L707.1,2049.3L699.8,2044.9L692.6,2049.3L694.6,2041L688.1,2035.5L696.6,2034.8ZM673.8,2054.8L677,2062.6L685.5,2063.3L679.1,2068.8L681,2077L673.8,2072.6L666.6,2077L668.5,2068.8L662.1,2063.3L670.5,2062.6ZM652.4,2079.4L655.6,2087.2L664.1,2087.9L657.7,2093.4L659.6,2101.7L652.4,2097.2L645.2,2101.7L647.1,2093.4L640.7,2087.9L649.1,2087.2ZM634.5,2100.8L637.7,2108.6L646.2,2109.3L639.7,2114.8L641.7,2123L634.5,2118.6L627.2,2123L629.2,2114.8L622.8,2109.3L631.2,2108.6ZM620.7,2118.7L624,2126.5L632.4,2127.2L626,2132.7L627.9,2140.9L620.7,2136.5L613.5,2140.9L615.5,2132.7L609,2127.2L617.5,2126.5ZM610,2136.5L613.2,2144.3L621.7,2145L615.2,2150.5L617.2,2158.7L610,2154.3L602.7,2158.7L604.7,2150.5L598.3,2145L606.7,2144.3ZM601,2150.6L604.2,2158.4L612.7,2159.1L606.2,2164.6L608.2,2172.9L601,2168.4L593.7,2172.9L595.7,2164.6L589.3,2159.1L597.7,2158.4ZM594.7,2160.6L597.9,2168.4L606.4,2169.1L599.9,2174.6L601.9,2182.8L594.7,2178.4L587.4,2182.8L589.4,2174.6L583,2169.1L591.4,2168.4ZM589.8,2170.6L593.1,2178.4L601.5,2179L595.1,2184.6L597.1,2192.8L589.8,2188.4L582.6,2192.8L584.6,2184.6L578.1,2179L586.6,2178.4ZM585,2179.5L588.2,2187.3L596.7,2188L590.2,2193.5L592.2,2201.7L585,2197.3L577.8,2201.7L579.7,2193.5L573.3,2188L581.7,2187.3ZM581.1,2187.3L584.4,2195.2L592.8,2195.8L586.4,2201.4L588.3,2209.6L581.1,2205.2L573.9,2209.6L575.8,2201.4L569.4,2195.8L577.9,2195.2ZM577.2,2194.2L580.5,2202L588.9,2202.7L582.5,2208.2L584.5,2216.4L577.2,2212L570,2216.4L572,2208.2L565.5,2202.7L574,2202ZM573.8,2199.9L577.1,2207.8L585.5,2208.4L579.1,2214L581.1,2222.2L573.8,2217.8L566.6,2222.2L568.6,2214L562.1,2208.4L570.6,2207.8ZM571.2,2204.7L574.5,2212.5L582.9,2213.2L576.5,2218.7L578.5,2226.9L571.2,2222.5L564,2226.9L566,2218.7L559.5,2213.2L568,2212.5ZM569,2209.4L572.3,2217.2L580.7,2217.9L574.3,2223.4L576.2,2231.7L569,2227.2L561.8,2231.7L563.7,2223.4L557.3,2217.9L565.7,2217.2ZM567.2,2213.6L570.4,2221.4L578.9,2222.1L572.4,2227.6L574.4,2235.9L567.2,2231.4L559.9,2235.9L561.9,2227.6L555.5,2222.1L563.9,2221.4ZM565.6,2217.3L568.9,2225.1L577.3,2225.8L570.9,2231.3L572.8,2239.5L565.6,2235.1L558.4,2239.5L560.3,2231.3L553.9,2225.8L562.4,2225.1ZM564.4,2220.4L567.7,2228.2L576.1,2228.9L569.7,2234.4L571.7,2242.7L564.4,2238.3L557.2,2242.7L559.2,2234.4L552.8,2228.9L561.2,2228.2ZM563.5,2223.6L566.7,2231.4L575.2,2232.1L568.7,2237.6L570.7,2245.8L563.5,2241.4L556.3,2245.8L558.2,2237.6L551.8,2232.1L560.2,2231.4ZM562.7,2226.2L566,2234L574.4,2234.7L568,2240.2L569.9,2248.5L562.7,2244L555.5,2248.5L557.4,2240.2L551,2234.7L559.5,2234ZM562.2,2228.3L565.5,2236.1L573.9,2236.8L567.5,2242.3L569.5,2250.6L562.2,2246.1L555,2250.6L557,2242.3L550.5,2236.8L559,2236.1ZM561.8,2229.9L565.1,2237.7L573.5,2238.4L567.1,2243.9L569.1,2252.1L561.8,2247.7L554.6,2252.1L556.6,2243.9L550.1,2238.4L558.6,2237.7ZM561.6,2230.9L564.9,2238.7L573.3,2239.4L566.9,2244.9L568.9,2253.2L561.6,2248.8L554.4,2253.2L556.4,2244.9L549.9,2239.4L558.4,2238.7ZM561.5,2231.7L564.7,2239.5L573.2,2240.2L566.8,2245.7L568.7,2254L561.5,2249.5L554.3,2254L556.2,2245.7L549.8,2240.2L558.2,2239.5ZM561.4,2232.2L564.7,2240.1L573.1,2240.7L566.7,2246.2L568.7,2254.5L561.4,2250.1L554.2,2254.5L556.2,2246.2L549.7,2240.7L558.2,2240.1Z" fill="#FF3333"/>
</g>
<rect x="560" y="1563" width="823.1" height="681.8" fill="none" stroke="#000" stroke-width="2.7"/>
<path d="M559.8,2244.8V2257.8M656.6,2244.8V2257.8M753.5,2244.8V2257.8M850.3,2244.8V2257.8M947.2,2244.8V2257.8M1044,2244.8V2257.8M1140.9,2244.8V2257.8M1237.8,2244.8V2257.8M1334.6,2244.8V2257.8" stroke="#000" stroke-width="2.4" fill="none"/>
<path d="M560,2244.8H546.5M560,2139.8H546.5M560,2034.8H546.5M560,1929.8H546.5M560,1824.8H546.5M560,1719.8H546.5M560,1614.8H546.5" stroke="#000" stroke-width="2.4" fill="none"/>
<text x="559.8" y="2292.2" font-size="31" text-anchor="middle" style="font-family:'Liberation Serif','Times New Roman',serif;font-weight:bold">0</text>
<text x="656.6" y="2292.2" font-size="31" text-anchor="middle" style="font-family:'Liberation Serif','Times New Roman',serif;font-weight:bold">100</text>
<text x="753.5" y="2292.2" font-size="31" text-anchor="middle" style="font-family:'Liberation Serif','Times New Roman',serif;font-weight:bold">200</text>
<text x="850.3" y="2292.2" font-size="31" text-anchor="middle" style="font-family:'Liberation Serif','Times New Roman',serif;font-weight:bold">300</text>
<text x="947.2" y="2292.2" font-size="31" text-anchor="middle" style="font-family:'Liberation Serif','Times New Roman',serif;font-weight:bold">400</text>
<text x="1044" y="2292.2" font-size="31" text-anchor="middle" style="font-family:'Liberation Serif','Times New Roman',serif;font-weight:bold">500</text>
<text x="1140.9" y="2292.2" font-size="31" text-anchor="middle" style="font-family:'Liberation Serif','Times New Roman',serif;font-weight:bold">600</text>
<text x="1237.8" y="2292.2" font-size="31" text-anchor="middle" style="font-family:'Liberation Serif','Times New Roman',serif;font-weight:bold">700</text>
<text x="1334.6" y="2292.2" font-size="31" text-anchor="middle" style="font-family:'Liberation Serif','Times New Roman',serif;font-weight:bold">800</text>
<text x="537.8" y="2255.2" font-size="31" text-anchor="end" style="font-family:'Liberation Serif','Times New Roman',serif;font-weight:bold">0</text>
<text x="537.8" y="2150.2" font-size="31" text-anchor="end" style="font-family:'Liberation Serif','Times New Roman',serif;font-weight:bold">200</text>
<text x="537.8" y="2045.2" font-size="31" text-anchor="end" style="font-family:'Liberation Serif','Times New Roman',serif;font-weight:bold">400</text>
<text x="537.8" y="1940.2" font-size="31" text-anchor="end" style="font-family:'Liberation Serif','Times New Roman',serif;font-weight:bold">600</text>
<text x="537.8" y="1835.2" font-size="31" text-anchor="end" style="font-family:'Liberation Serif','Times New Roman',serif;font-weight:bold">800</text>
<text x="537.8" y="1730.2" font-size="31" text-anchor="end" style="font-family:'Liberation Serif','Times New Roman',serif;font-weight:bold">1000</text>
<text x="537.8" y="1625.2" font-size="31" text-anchor="end" style="font-family:'Liberation Serif','Times New Roman',serif;font-weight:bold">1200</text>
<text x="970.8" y="2349.5" font-size="34" text-anchor="middle" style="font-family:'Liberation Serif','Times New Roman',serif;font-weight:bold">Z' (Ohm)</text>
<text x="437" y="1887" font-size="36" text-anchor="middle" style="font-family:'Liberation Serif','Times New Roman',serif;font-weight:bold" transform="rotate(-90 437 1887)">-Z'' (Ohm)</text>
<text x="955.9" y="1650" font-size="65" text-anchor="middle" style="font-family:'Liberation Serif','Times New Roman',serif;font-weight:bold">(e)</text>
<rect x="952.4" y="1865.6" width="409.8" height="340.8" fill="#fff"/>
<g clip-path="url(#clipI)">
<path d="M1155.5,1864 L1149.4,1889.3 L1136.3,1943 L1125.3,1984.5 L1116,2020 L1108.9,2050.5 L1103.5,2075.5 L1099.4,2096 L1096,2112.5 L1092.6,2126.7 L1089.2,2139.5 L1085.1,2151 L1080.8,2160.1 L1077.7,2166.9 L1076.9,2172 L1076.4,2177 L1075.8,2182 L1075,2186.5 L1074,2191 L1073,2195 L1072,2198.5 L1070.8,2202 L1069.5,2205 L1068,2208" fill="none" stroke="#444" stroke-width="1.2"/>
<path d="M1149.4,1883.4L1151,1887.2L1155,1887.5L1151.9,1890.1L1152.9,1894.1L1149.4,1892L1145.9,1894.1L1146.9,1890.1L1143.8,1887.5L1147.8,1887.2ZM1136.3,1937.1L1137.9,1940.9L1141.9,1941.2L1138.8,1943.8L1139.8,1947.8L1136.3,1945.7L1132.8,1947.8L1133.8,1943.8L1130.7,1941.2L1134.7,1940.9ZM1125.3,1978.6L1126.9,1982.4L1130.9,1982.7L1127.8,1985.3L1128.8,1989.3L1125.3,1987.2L1121.8,1989.3L1122.8,1985.3L1119.7,1982.7L1123.7,1982.4ZM1116,2014.1L1117.6,2017.9L1121.6,2018.2L1118.5,2020.8L1119.5,2024.8L1116,2022.7L1112.5,2024.8L1113.5,2020.8L1110.4,2018.2L1114.4,2017.9ZM1108.9,2044.6L1110.5,2048.4L1114.5,2048.7L1111.4,2051.3L1112.4,2055.3L1108.9,2053.2L1105.4,2055.3L1106.4,2051.3L1103.3,2048.7L1107.3,2048.4ZM1103.5,2069.6L1105.1,2073.4L1109.1,2073.7L1106,2076.3L1107,2080.3L1103.5,2078.2L1100,2080.3L1101,2076.3L1097.9,2073.7L1101.9,2073.4ZM1099.4,2090.1L1101,2093.9L1105,2094.2L1101.9,2096.8L1102.9,2100.8L1099.4,2098.7L1095.9,2100.8L1096.9,2096.8L1093.8,2094.2L1097.8,2093.9ZM1096,2106.6L1097.6,2110.4L1101.6,2110.7L1098.5,2113.3L1099.5,2117.3L1096,2115.2L1092.5,2117.3L1093.5,2113.3L1090.4,2110.7L1094.4,2110.4ZM1092.6,2120.8L1094.2,2124.6L1098.2,2124.9L1095.1,2127.5L1096.1,2131.5L1092.6,2129.4L1089.1,2131.5L1090.1,2127.5L1087,2124.9L1091,2124.6ZM1089.2,2133.6L1090.8,2137.4L1094.8,2137.7L1091.7,2140.3L1092.7,2144.3L1089.2,2142.2L1085.7,2144.3L1086.7,2140.3L1083.6,2137.7L1087.6,2137.4ZM1085.1,2145.1L1086.7,2148.9L1090.7,2149.2L1087.6,2151.8L1088.6,2155.8L1085.1,2153.7L1081.6,2155.8L1082.6,2151.8L1079.5,2149.2L1083.5,2148.9ZM1080.8,2154.2L1082.4,2158L1086.4,2158.3L1083.3,2160.9L1084.3,2164.9L1080.8,2162.8L1077.3,2164.9L1078.3,2160.9L1075.2,2158.3L1079.2,2158ZM1077.7,2161L1079.3,2164.8L1083.3,2165.1L1080.2,2167.7L1081.2,2171.7L1077.7,2169.6L1074.2,2171.7L1075.2,2167.7L1072.1,2165.1L1076.1,2164.8ZM1076.9,2166.1L1078.5,2169.9L1082.5,2170.2L1079.4,2172.8L1080.4,2176.8L1076.9,2174.7L1073.4,2176.8L1074.4,2172.8L1071.3,2170.2L1075.3,2169.9ZM1076.4,2171.1L1078,2174.9L1082,2175.2L1078.9,2177.8L1079.9,2181.8L1076.4,2179.7L1072.9,2181.8L1073.9,2177.8L1070.8,2175.2L1074.8,2174.9ZM1075.8,2176.1L1077.4,2179.9L1081.4,2180.2L1078.3,2182.8L1079.3,2186.8L1075.8,2184.7L1072.3,2186.8L1073.3,2182.8L1070.2,2180.2L1074.2,2179.9ZM1075,2180.6L1076.6,2184.4L1080.6,2184.7L1077.5,2187.3L1078.5,2191.3L1075,2189.2L1071.5,2191.3L1072.5,2187.3L1069.4,2184.7L1073.4,2184.4ZM1074,2185.1L1075.6,2188.9L1079.6,2189.2L1076.5,2191.8L1077.5,2195.8L1074,2193.7L1070.5,2195.8L1071.5,2191.8L1068.4,2189.2L1072.4,2188.9ZM1073,2189.1L1074.6,2192.9L1078.6,2193.2L1075.5,2195.8L1076.5,2199.8L1073,2197.7L1069.5,2199.8L1070.5,2195.8L1067.4,2193.2L1071.4,2192.9ZM1072,2192.6L1073.6,2196.4L1077.6,2196.7L1074.5,2199.3L1075.5,2203.3L1072,2201.2L1068.5,2203.3L1069.5,2199.3L1066.4,2196.7L1070.4,2196.4ZM1070.8,2196.1L1072.4,2199.9L1076.4,2200.2L1073.3,2202.8L1074.3,2206.8L1070.8,2204.7L1067.3,2206.8L1068.3,2202.8L1065.2,2200.2L1069.2,2199.9ZM1069.5,2199.1L1071.1,2202.9L1075.1,2203.2L1072,2205.8L1073,2209.8L1069.5,2207.7L1066,2209.8L1067,2205.8L1063.9,2203.2L1067.9,2202.9ZM1068,2202.1L1069.6,2205.9L1073.6,2206.2L1070.5,2208.8L1071.5,2212.8L1068,2210.7L1064.5,2212.8L1065.5,2208.8L1062.4,2206.2L1066.4,2205.9Z" fill="#fff" stroke="#fff" stroke-width="3" stroke-linejoin="round"/>
<path d="M1149.4,1883.4L1151,1887.2L1155,1887.5L1151.9,1890.1L1152.9,1894.1L1149.4,1892L1145.9,1894.1L1146.9,1890.1L1143.8,1887.5L1147.8,1887.2ZM1136.3,1937.1L1137.9,1940.9L1141.9,1941.2L1138.8,1943.8L1139.8,1947.8L1136.3,1945.7L1132.8,1947.8L1133.8,1943.8L1130.7,1941.2L1134.7,1940.9ZM1125.3,1978.6L1126.9,1982.4L1130.9,1982.7L1127.8,1985.3L1128.8,1989.3L1125.3,1987.2L1121.8,1989.3L1122.8,1985.3L1119.7,1982.7L1123.7,1982.4ZM1116,2014.1L1117.6,2017.9L1121.6,2018.2L1118.5,2020.8L1119.5,2024.8L1116,2022.7L1112.5,2024.8L1113.5,2020.8L1110.4,2018.2L1114.4,2017.9ZM1108.9,2044.6L1110.5,2048.4L1114.5,2048.7L1111.4,2051.3L1112.4,2055.3L1108.9,2053.2L1105.4,2055.3L1106.4,2051.3L1103.3,2048.7L1107.3,2048.4ZM1103.5,2069.6L1105.1,2073.4L1109.1,2073.7L1106,2076.3L1107,2080.3L1103.5,2078.2L1100,2080.3L1101,2076.3L1097.9,2073.7L1101.9,2073.4ZM1099.4,2090.1L1101,2093.9L1105,2094.2L1101.9,2096.8L1102.9,2100.8L1099.4,2098.7L1095.9,2100.8L1096.9,2096.8L1093.8,2094.2L1097.8,2093.9ZM1096,2106.6L1097.6,2110.4L1101.6,2110.7L1098.5,2113.3L1099.5,2117.3L1096,2115.2L1092.5,2117.3L1093.5,2113.3L1090.4,2110.7L1094.4,2110.4ZM1092.6,2120.8L1094.2,2124.6L1098.2,2124.9L1095.1,2127.5L1096.1,2131.5L1092.6,2129.4L1089.1,2131.5L1090.1,2127.5L1087,2124.9L1091,2124.6ZM1089.2,2133.6L1090.8,2137.4L1094.8,2137.7L1091.7,2140.3L1092.7,2144.3L1089.2,2142.2L1085.7,2144.3L1086.7,2140.3L1083.6,2137.7L1087.6,2137.4ZM1085.1,2145.1L1086.7,2148.9L1090.7,2149.2L1087.6,2151.8L1088.6,2155.8L1085.1,2153.7L1081.6,2155.8L1082.6,2151.8L1079.5,2149.2L1083.5,2148.9ZM1080.8,2154.2L1082.4,2158L1086.4,2158.3L1083.3,2160.9L1084.3,2164.9L1080.8,2162.8L1077.3,2164.9L1078.3,2160.9L1075.2,2158.3L1079.2,2158ZM1077.7,2161L1079.3,2164.8L1083.3,2165.1L1080.2,2167.7L1081.2,2171.7L1077.7,2169.6L1074.2,2171.7L1075.2,2167.7L1072.1,2165.1L1076.1,2164.8ZM1076.9,2166.1L1078.5,2169.9L1082.5,2170.2L1079.4,2172.8L1080.4,2176.8L1076.9,2174.7L1073.4,2176.8L1074.4,2172.8L1071.3,2170.2L1075.3,2169.9ZM1076.4,2171.1L1078,2174.9L1082,2175.2L1078.9,2177.8L1079.9,2181.8L1076.4,2179.7L1072.9,2181.8L1073.9,2177.8L1070.8,2175.2L1074.8,2174.9ZM1075.8,2176.1L1077.4,2179.9L1081.4,2180.2L1078.3,2182.8L1079.3,2186.8L1075.8,2184.7L1072.3,2186.8L1073.3,2182.8L1070.2,2180.2L1074.2,2179.9ZM1075,2180.6L1076.6,2184.4L1080.6,2184.7L1077.5,2187.3L1078.5,2191.3L1075,2189.2L1071.5,2191.3L1072.5,2187.3L1069.4,2184.7L1073.4,2184.4ZM1074,2185.1L1075.6,2188.9L1079.6,2189.2L1076.5,2191.8L1077.5,2195.8L1074,2193.7L1070.5,2195.8L1071.5,2191.8L1068.4,2189.2L1072.4,2188.9ZM1073,2189.1L1074.6,2192.9L1078.6,2193.2L1075.5,2195.8L1076.5,2199.8L1073,2197.7L1069.5,2199.8L1070.5,2195.8L1067.4,2193.2L1071.4,2192.9ZM1072,2192.6L1073.6,2196.4L1077.6,2196.7L1074.5,2199.3L1075.5,2203.3L1072,2201.2L1068.5,2203.3L1069.5,2199.3L1066.4,2196.7L1070.4,2196.4ZM1070.8,2196.1L1072.4,2199.9L1076.4,2200.2L1073.3,2202.8L1074.3,2206.8L1070.8,2204.7L1067.3,2206.8L1068.3,2202.8L1065.2,2200.2L1069.2,2199.9ZM1069.5,2199.1L1071.1,2202.9L1075.1,2203.2L1072,2205.8L1073,2209.8L1069.5,2207.7L1066,2209.8L1067,2205.8L1063.9,2203.2L1067.9,2202.9ZM1068,2202.1L1069.6,2205.9L1073.6,2206.2L1070.5,2208.8L1071.5,2212.8L1068,2210.7L1064.5,2212.8L1065.5,2208.8L1062.4,2206.2L1066.4,2205.9Z" fill="#FF3333"/>
</g>
<rect x="952.4" y="1865.6" width="409.8" height="340.8" fill="none" stroke="#555" stroke-width="1.8"/>
<path d="M952.4,2206.4V2212.9M1020.7,2206.4V2212.9M1089,2206.4V2212.9M1157.3,2206.4V2212.9M1225.6,2206.4V2212.9M1293.9,2206.4V2212.9M1362.2,2206.4V2212.9" stroke="#333" stroke-width="1.6" fill="none"/>
<path d="M952.4,2206.4H945.9M952.4,2149.6H945.9M952.4,2092.8H945.9M952.4,2036H945.9M952.4,1979.2H945.9M952.4,1922.4H945.9M952.4,1865.6H945.9" stroke="#333" stroke-width="1.6" fill="none"/>
<text x="952.4" y="2229.8" font-size="16" text-anchor="middle" style="font-family:'Liberation Serif','Times New Roman',serif;font-weight:bold">0</text>
<text x="1020.7" y="2229.8" font-size="16" text-anchor="middle" style="font-family:'Liberation Serif','Times New Roman',serif;font-weight:bold">1</text>
<text x="1089" y="2229.8" font-size="16" text-anchor="middle" style="font-family:'Liberation Serif','Times New Roman',serif;font-weight:bold">2</text>
<text x="1157.3" y="2229.8" font-size="16" text-anchor="middle" style="font-family:'Liberation Serif','Times New Roman',serif;font-weight:bold">3</text>
<text x="1225.6" y="2229.8" font-size="16" text-anchor="middle" style="font-family:'Liberation Serif','Times New Roman',serif;font-weight:bold">4</text>
<text x="1293.9" y="2229.8" font-size="16" text-anchor="middle" style="font-family:'Liberation Serif','Times New Roman',serif;font-weight:bold">5</text>
<text x="1362.2" y="2229.8" font-size="16" text-anchor="middle" style="font-family:'Liberation Serif','Times New Roman',serif;font-weight:bold">6</text>
<text x="941.5" y="2212" font-size="16" text-anchor="end" style="font-family:'Liberation Serif','Times New Roman',serif;font-weight:bold">0</text>
<text x="941.5" y="2155.2" font-size="16" text-anchor="end" style="font-family:'Liberation Serif','Times New Roman',serif;font-weight:bold">1</text>
<text x="941.5" y="2098.4" font-size="16" text-anchor="end" style="font-family:'Liberation Serif','Times New Roman',serif;font-weight:bold">2</text>
<text x="941.5" y="2041.6" font-size="16" text-anchor="end" style="font-family:'Liberation Serif','Times New Roman',serif;font-weight:bold">3</text>
<text x="941.5" y="1984.8" font-size="16" text-anchor="end" style="font-family:'Liberation Serif','Times New Roman',serif;font-weight:bold">4</text>
<text x="941.5" y="1928" font-size="16" text-anchor="end" style="font-family:'Liberation Serif','Times New Roman',serif;font-weight:bold">5</text>
<text x="941.5" y="1871.2" font-size="16" text-anchor="end" style="font-family:'Liberation Serif','Times New Roman',serif;font-weight:bold">6</text>
</svg></body></html>
